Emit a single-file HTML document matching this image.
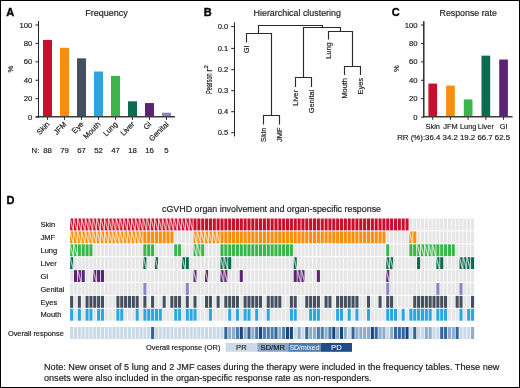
<!DOCTYPE html>
<html><head><meta charset="utf-8"><style>
html,body{margin:0;padding:0;background:#fff;}
body{width:520px;height:388px;overflow:hidden;}
svg{display:block;will-change:transform;}
text{font-family:"Liberation Sans", sans-serif;}
</style></head><body>
<svg width="520" height="388" viewBox="0 0 520 388" font-family='"Liberation Sans", sans-serif'>
<rect x="0" y="0" width="520" height="388" fill="#fff"/>
<text x="6.2" y="15.6" font-size="11" text-anchor="start" font-weight="bold" fill="#000" stroke="#000" stroke-width="0.35" >A</text>
<text x="106.5" y="15.8" font-size="9" text-anchor="middle" font-weight="normal" fill="#1a1a1a" stroke="#1a1a1a" stroke-width="0.17" >Frequency</text>
<line x1="38.5" y1="21" x2="38.5" y2="117.4" stroke="#222" stroke-width="1"/>
<line x1="35.5" y1="117.1" x2="38.5" y2="117.1" stroke="#222" stroke-width="1"/>
<text x="32.4" y="119.6" font-size="7.7" text-anchor="end" font-weight="normal" fill="#1a1a1a" stroke="#1a1a1a" stroke-width="0.17" >0</text>
<line x1="35.5" y1="98.67999999999999" x2="38.5" y2="98.67999999999999" stroke="#222" stroke-width="1"/>
<text x="32.4" y="101.17999999999999" font-size="7.7" text-anchor="end" font-weight="normal" fill="#1a1a1a" stroke="#1a1a1a" stroke-width="0.17" >20</text>
<line x1="35.5" y1="80.25999999999999" x2="38.5" y2="80.25999999999999" stroke="#222" stroke-width="1"/>
<text x="32.4" y="82.75999999999999" font-size="7.7" text-anchor="end" font-weight="normal" fill="#1a1a1a" stroke="#1a1a1a" stroke-width="0.17" >40</text>
<line x1="35.5" y1="61.83999999999999" x2="38.5" y2="61.83999999999999" stroke="#222" stroke-width="1"/>
<text x="32.4" y="64.33999999999999" font-size="7.7" text-anchor="end" font-weight="normal" fill="#1a1a1a" stroke="#1a1a1a" stroke-width="0.17" >60</text>
<line x1="35.5" y1="43.41999999999999" x2="38.5" y2="43.41999999999999" stroke="#222" stroke-width="1"/>
<text x="32.4" y="45.91999999999999" font-size="7.7" text-anchor="end" font-weight="normal" fill="#1a1a1a" stroke="#1a1a1a" stroke-width="0.17" >80</text>
<line x1="35.5" y1="24.999999999999986" x2="38.5" y2="24.999999999999986" stroke="#222" stroke-width="1"/>
<text x="32.4" y="27.499999999999986" font-size="7.7" text-anchor="end" font-weight="normal" fill="#1a1a1a" stroke="#1a1a1a" stroke-width="0.17" >100</text>
<rect x="43" y="39.91" width="9" height="76.59" fill="#c8102e"/>
<line x1="47.5" y1="117" x2="47.5" y2="119.8" stroke="#222" stroke-width="1"/>
<text x="50.1" y="124.7" font-size="7.6" text-anchor="end" font-weight="normal" fill="#1a1a1a" stroke="#1a1a1a" stroke-width="0.17" transform="rotate(-45 50.1 124.7)">Skin</text>
<text x="47.5" y="152.6" font-size="7.8" text-anchor="middle" font-weight="normal" fill="#1a1a1a" stroke="#1a1a1a" stroke-width="0.17" >88</text>
<rect x="60" y="47.81" width="9" height="68.69" fill="#f98d0e"/>
<line x1="64.5" y1="117" x2="64.5" y2="119.8" stroke="#222" stroke-width="1"/>
<text x="67.1" y="124.7" font-size="7.6" text-anchor="end" font-weight="normal" fill="#1a1a1a" stroke="#1a1a1a" stroke-width="0.17" transform="rotate(-45 67.1 124.7)">JFM</text>
<text x="64.5" y="152.6" font-size="7.8" text-anchor="middle" font-weight="normal" fill="#1a1a1a" stroke="#1a1a1a" stroke-width="0.17" >79</text>
<rect x="77" y="58.33" width="9" height="58.17" fill="#44505f"/>
<line x1="81.5" y1="117" x2="81.5" y2="119.8" stroke="#222" stroke-width="1"/>
<text x="84.1" y="124.7" font-size="7.6" text-anchor="end" font-weight="normal" fill="#1a1a1a" stroke="#1a1a1a" stroke-width="0.17" transform="rotate(-45 84.1 124.7)">Eye</text>
<text x="81.5" y="152.6" font-size="7.8" text-anchor="middle" font-weight="normal" fill="#1a1a1a" stroke="#1a1a1a" stroke-width="0.17" >67</text>
<rect x="94" y="71.49" width="9" height="45.01" fill="#2aa7e1"/>
<line x1="98.5" y1="117" x2="98.5" y2="119.8" stroke="#222" stroke-width="1"/>
<text x="101.1" y="124.7" font-size="7.6" text-anchor="end" font-weight="normal" fill="#1a1a1a" stroke="#1a1a1a" stroke-width="0.17" transform="rotate(-45 101.1 124.7)">Mouth</text>
<text x="98.5" y="152.6" font-size="7.8" text-anchor="middle" font-weight="normal" fill="#1a1a1a" stroke="#1a1a1a" stroke-width="0.17" >52</text>
<rect x="111" y="75.87" width="9" height="40.63" fill="#3bb54a"/>
<line x1="115.5" y1="117" x2="115.5" y2="119.8" stroke="#222" stroke-width="1"/>
<text x="118.1" y="124.7" font-size="7.6" text-anchor="end" font-weight="normal" fill="#1a1a1a" stroke="#1a1a1a" stroke-width="0.17" transform="rotate(-45 118.1 124.7)">Lung</text>
<text x="115.5" y="152.6" font-size="7.8" text-anchor="middle" font-weight="normal" fill="#1a1a1a" stroke="#1a1a1a" stroke-width="0.17" >47</text>
<rect x="128" y="101.31" width="9" height="15.19" fill="#0b6b4f"/>
<line x1="132.5" y1="117" x2="132.5" y2="119.8" stroke="#222" stroke-width="1"/>
<text x="135.1" y="124.7" font-size="7.6" text-anchor="end" font-weight="normal" fill="#1a1a1a" stroke="#1a1a1a" stroke-width="0.17" transform="rotate(-45 135.1 124.7)">Liver</text>
<text x="132.5" y="152.6" font-size="7.8" text-anchor="middle" font-weight="normal" fill="#1a1a1a" stroke="#1a1a1a" stroke-width="0.17" >18</text>
<rect x="145" y="103.07" width="9" height="13.43" fill="#5c2373"/>
<line x1="149.5" y1="117" x2="149.5" y2="119.8" stroke="#222" stroke-width="1"/>
<text x="152.1" y="124.7" font-size="7.6" text-anchor="end" font-weight="normal" fill="#1a1a1a" stroke="#1a1a1a" stroke-width="0.17" transform="rotate(-45 152.1 124.7)">GI</text>
<text x="149.5" y="152.6" font-size="7.8" text-anchor="middle" font-weight="normal" fill="#1a1a1a" stroke="#1a1a1a" stroke-width="0.17" >16</text>
<rect x="162" y="112.71" width="9" height="3.79" fill="#8a82ca"/>
<line x1="166.5" y1="117" x2="166.5" y2="119.8" stroke="#222" stroke-width="1"/>
<text x="169.1" y="124.7" font-size="7.6" text-anchor="end" font-weight="normal" fill="#1a1a1a" stroke="#1a1a1a" stroke-width="0.17" transform="rotate(-45 169.1 124.7)">Genital</text>
<text x="166.5" y="152.6" font-size="7.8" text-anchor="middle" font-weight="normal" fill="#1a1a1a" stroke="#1a1a1a" stroke-width="0.17" >5</text>
<text x="31.6" y="152.6" font-size="7.8" text-anchor="start" font-weight="normal" fill="#1a1a1a" stroke="#1a1a1a" stroke-width="0.17" >N:</text>
<line x1="35.8" y1="116.8" x2="175" y2="116.8" stroke="#3c3c3c" stroke-width="1.4"/>
<line x1="38.5" y1="21" x2="38.5" y2="117.4" stroke="#222" stroke-width="1"/>
<text x="13.3" y="69" font-size="7.6" text-anchor="middle" font-weight="normal" fill="#1a1a1a" stroke="#1a1a1a" stroke-width="0.17" transform="rotate(-90 13.3 69)">%</text>
<text x="203.8" y="15.9" font-size="11" text-anchor="start" font-weight="bold" fill="#000" stroke="#000" stroke-width="0.35" >B</text>
<text x="253.6" y="16.3" font-size="8.9" text-anchor="start" font-weight="normal" fill="#1a1a1a" stroke="#1a1a1a" stroke-width="0.17" >Hierarchical clustering</text>
<line x1="234.5" y1="22.3" x2="234.5" y2="136.4" stroke="#222" stroke-width="1"/>
<line x1="231.2" y1="26.6" x2="234.3" y2="26.6" stroke="#222" stroke-width="1"/>
<text x="228.2" y="28.900000000000002" font-size="7.6" text-anchor="end" font-weight="normal" fill="#1a1a1a" stroke="#1a1a1a" stroke-width="0.17" >0.0</text>
<line x1="231.2" y1="48.4" x2="234.3" y2="48.4" stroke="#222" stroke-width="1"/>
<text x="228.2" y="50.699999999999996" font-size="7.6" text-anchor="end" font-weight="normal" fill="#1a1a1a" stroke="#1a1a1a" stroke-width="0.17" >0.1</text>
<line x1="231.2" y1="69.7" x2="234.3" y2="69.7" stroke="#222" stroke-width="1"/>
<text x="228.2" y="72.0" font-size="7.6" text-anchor="end" font-weight="normal" fill="#1a1a1a" stroke="#1a1a1a" stroke-width="0.17" >0.2</text>
<line x1="231.2" y1="90.7" x2="234.3" y2="90.7" stroke="#222" stroke-width="1"/>
<text x="228.2" y="93.0" font-size="7.6" text-anchor="end" font-weight="normal" fill="#1a1a1a" stroke="#1a1a1a" stroke-width="0.17" >0.3</text>
<line x1="231.2" y1="111.7" x2="234.3" y2="111.7" stroke="#222" stroke-width="1"/>
<text x="228.2" y="114.0" font-size="7.6" text-anchor="end" font-weight="normal" fill="#1a1a1a" stroke="#1a1a1a" stroke-width="0.17" >0.4</text>
<line x1="231.2" y1="132.7" x2="234.3" y2="132.7" stroke="#222" stroke-width="1"/>
<text x="228.2" y="135.0" font-size="7.6" text-anchor="end" font-weight="normal" fill="#1a1a1a" stroke="#1a1a1a" stroke-width="0.17" >0.5</text>
<text x="0" y="0" font-size="8.8" fill="#1a1a1a" stroke="#1a1a1a" stroke-width="0.2" transform="translate(211.8 94) rotate(-90)"><tspan textLength="20.6" lengthAdjust="spacingAndGlyphs">Pearson</tspan><tspan dx="1.6" textLength="3.2" lengthAdjust="spacingAndGlyphs">r</tspan><tspan font-size="5.4" dx="0.4" dy="-3.6">2</tspan></text>
<path d="M263.5,124 L263.5,115.5 L279.5,115.5 L279.5,124" fill="none" stroke="#2b2b2b" stroke-width="1.15" stroke-linecap="square"/>
<path d="M246.5,42 L246.5,33.5 L271.5,33.5 L271.5,115.5" fill="none" stroke="#2b2b2b" stroke-width="1.15" stroke-linecap="square"/>
<path d="M295.5,86.3 L295.5,77.5 L311.5,77.5 L311.5,86.3" fill="none" stroke="#2b2b2b" stroke-width="1.15" stroke-linecap="square"/>
<path d="M344.5,74.5 L344.5,66.5 L360.5,66.5 L360.5,74.5" fill="none" stroke="#2b2b2b" stroke-width="1.15" stroke-linecap="square"/>
<path d="M328.5,38.8 L328.5,31.5 L352.5,31.5 L352.5,66.5" fill="none" stroke="#2b2b2b" stroke-width="1.15" stroke-linecap="square"/>
<path d="M303.5,77.5 L303.5,27.5 L340.5,27.5 L340.5,31.5" fill="none" stroke="#2b2b2b" stroke-width="1.15" stroke-linecap="square"/>
<path d="M258.5,33.5 L258.5,25.5 L322.5,25.5 L322.5,27.5" fill="none" stroke="#2b2b2b" stroke-width="1.15" stroke-linecap="square"/>
<text x="249.2" y="45.5" font-size="7.4" text-anchor="end" font-weight="normal" fill="#1a1a1a" stroke="#1a1a1a" stroke-width="0.17" transform="rotate(-90 249.2 45.5)">GI</text>
<text x="266.2" y="127.5" font-size="7.4" text-anchor="end" font-weight="normal" fill="#1a1a1a" stroke="#1a1a1a" stroke-width="0.17" transform="rotate(-90 266.2 127.5)">Skin</text>
<text x="282.2" y="127.5" font-size="7.4" text-anchor="end" font-weight="normal" fill="#1a1a1a" stroke="#1a1a1a" stroke-width="0.17" transform="rotate(-90 282.2 127.5)">JMF</text>
<text x="298.2" y="89.8" font-size="7.4" text-anchor="end" font-weight="normal" fill="#1a1a1a" stroke="#1a1a1a" stroke-width="0.17" transform="rotate(-90 298.2 89.8)">Liver</text>
<text x="314.2" y="89.8" font-size="7.4" text-anchor="end" font-weight="normal" fill="#1a1a1a" stroke="#1a1a1a" stroke-width="0.17" transform="rotate(-90 314.2 89.8)">Genital</text>
<text x="331.2" y="42.3" font-size="7.4" text-anchor="end" font-weight="normal" fill="#1a1a1a" stroke="#1a1a1a" stroke-width="0.17" transform="rotate(-90 331.2 42.3)">Lung</text>
<text x="347.2" y="78.0" font-size="7.4" text-anchor="end" font-weight="normal" fill="#1a1a1a" stroke="#1a1a1a" stroke-width="0.17" transform="rotate(-90 347.2 78.0)">Mouth</text>
<text x="363.2" y="78.0" font-size="7.4" text-anchor="end" font-weight="normal" fill="#1a1a1a" stroke="#1a1a1a" stroke-width="0.17" transform="rotate(-90 363.2 78.0)">Eyes</text>
<text x="391.8" y="15.9" font-size="11" text-anchor="start" font-weight="bold" fill="#000" stroke="#000" stroke-width="0.35" >C</text>
<text x="468.2" y="15.8" font-size="8.8" text-anchor="middle" font-weight="normal" fill="#1a1a1a" stroke="#1a1a1a" stroke-width="0.17" >Response rate</text>
<line x1="423.8" y1="21.3" x2="423.8" y2="117.4" stroke="#222" stroke-width="1"/>
<line x1="421" y1="117.1" x2="423.8" y2="117.1" stroke="#222" stroke-width="1"/>
<text x="417.6" y="119.6" font-size="7.7" text-anchor="end" font-weight="normal" fill="#1a1a1a" stroke="#1a1a1a" stroke-width="0.17" >0</text>
<line x1="421" y1="98.67999999999999" x2="423.8" y2="98.67999999999999" stroke="#222" stroke-width="1"/>
<text x="417.6" y="101.17999999999999" font-size="7.7" text-anchor="end" font-weight="normal" fill="#1a1a1a" stroke="#1a1a1a" stroke-width="0.17" >20</text>
<line x1="421" y1="80.25999999999999" x2="423.8" y2="80.25999999999999" stroke="#222" stroke-width="1"/>
<text x="417.6" y="82.75999999999999" font-size="7.7" text-anchor="end" font-weight="normal" fill="#1a1a1a" stroke="#1a1a1a" stroke-width="0.17" >40</text>
<line x1="421" y1="61.83999999999999" x2="423.8" y2="61.83999999999999" stroke="#222" stroke-width="1"/>
<text x="417.6" y="64.33999999999999" font-size="7.7" text-anchor="end" font-weight="normal" fill="#1a1a1a" stroke="#1a1a1a" stroke-width="0.17" >60</text>
<line x1="421" y1="43.41999999999999" x2="423.8" y2="43.41999999999999" stroke="#222" stroke-width="1"/>
<text x="417.6" y="45.91999999999999" font-size="7.7" text-anchor="end" font-weight="normal" fill="#1a1a1a" stroke="#1a1a1a" stroke-width="0.17" >80</text>
<line x1="421" y1="24.999999999999986" x2="423.8" y2="24.999999999999986" stroke="#222" stroke-width="1"/>
<text x="417.6" y="27.499999999999986" font-size="7.7" text-anchor="end" font-weight="normal" fill="#1a1a1a" stroke="#1a1a1a" stroke-width="0.17" >100</text>
<rect x="428.40" y="83.58" width="8.7" height="32.92" fill="#c8102e"/>
<line x1="432.75" y1="117" x2="432.75" y2="119.8" stroke="#222" stroke-width="1"/>
<text x="432.75" y="128.6" font-size="7.4" text-anchor="middle" font-weight="normal" fill="#1a1a1a" stroke="#1a1a1a" stroke-width="0.17" >Skin</text>
<rect x="446.10" y="85.60" width="8.7" height="30.90" fill="#f98d0e"/>
<line x1="450.45" y1="117" x2="450.45" y2="119.8" stroke="#222" stroke-width="1"/>
<text x="450.45" y="128.6" font-size="7.4" text-anchor="middle" font-weight="normal" fill="#1a1a1a" stroke="#1a1a1a" stroke-width="0.17" >JFM</text>
<rect x="463.80" y="99.42" width="8.7" height="17.08" fill="#3bb54a"/>
<line x1="468.15" y1="117" x2="468.15" y2="119.8" stroke="#222" stroke-width="1"/>
<text x="468.15" y="128.6" font-size="7.4" text-anchor="middle" font-weight="normal" fill="#1a1a1a" stroke="#1a1a1a" stroke-width="0.17" >Lung</text>
<rect x="481.50" y="55.67" width="8.7" height="60.83" fill="#0b6b4f"/>
<line x1="485.85" y1="117" x2="485.85" y2="119.8" stroke="#222" stroke-width="1"/>
<text x="485.85" y="128.6" font-size="7.4" text-anchor="middle" font-weight="normal" fill="#1a1a1a" stroke="#1a1a1a" stroke-width="0.17" >Liver</text>
<rect x="499.20" y="59.54" width="8.7" height="56.96" fill="#5c2373"/>
<line x1="503.55" y1="117" x2="503.55" y2="119.8" stroke="#222" stroke-width="1"/>
<text x="503.55" y="128.6" font-size="7.4" text-anchor="middle" font-weight="normal" fill="#1a1a1a" stroke="#1a1a1a" stroke-width="0.17" >GI</text>
<text x="397.2" y="139.6" font-size="7.85" text-anchor="start" font-weight="normal" fill="#1a1a1a" stroke="#1a1a1a" stroke-width="0.17" >RR (%):36.4 34.2 19.2 66.7 62.5</text>
<line x1="423.3" y1="116.8" x2="512.6" y2="116.8" stroke="#3c3c3c" stroke-width="1.4"/>
<line x1="423.8" y1="21.3" x2="423.8" y2="117.4" stroke="#222" stroke-width="1"/>
<text x="398.8" y="68.7" font-size="7.6" text-anchor="middle" font-weight="normal" fill="#1a1a1a" stroke="#1a1a1a" stroke-width="0.17" transform="rotate(-90 398.8 68.7)">%</text>
<text x="6.4" y="204.2" font-size="11" text-anchor="start" font-weight="bold" fill="#000" stroke="#000" stroke-width="0.35" >D</text>
<text x="162" y="212.2" font-size="8.9" text-anchor="start" font-weight="normal" fill="#1a1a1a" stroke="#1a1a1a" stroke-width="0.17" >cGVHD organ involvement and organ-specific response</text>
<text x="40.5" y="227.1" font-size="7.5" text-anchor="start" font-weight="normal" fill="#1a1a1a" stroke="#1a1a1a" stroke-width="0.17" >Skin</text>
<rect x="70.10" y="218.50" width="3.1" height="11.9" fill="#c8102e"/>
<line x1="70.10" y1="218.50" x2="73.20" y2="230.40" stroke="#fff" stroke-width="1.3" opacity="0.62"/>
<rect x="73.95" y="218.50" width="3.1" height="11.9" fill="#c8102e"/>
<line x1="73.95" y1="218.50" x2="77.05" y2="230.40" stroke="#fff" stroke-width="1.3" opacity="0.62"/>
<rect x="77.81" y="218.50" width="3.1" height="11.9" fill="#c8102e"/>
<line x1="77.81" y1="218.50" x2="80.91" y2="230.40" stroke="#fff" stroke-width="1.3" opacity="0.62"/>
<rect x="81.66" y="218.50" width="3.1" height="11.9" fill="#c8102e"/>
<line x1="81.66" y1="218.50" x2="84.76" y2="230.40" stroke="#fff" stroke-width="1.3" opacity="0.62"/>
<rect x="85.52" y="218.50" width="3.1" height="11.9" fill="#c8102e"/>
<line x1="85.52" y1="218.50" x2="88.62" y2="230.40" stroke="#fff" stroke-width="1.3" opacity="0.62"/>
<rect x="89.38" y="218.50" width="3.1" height="11.9" fill="#c8102e"/>
<line x1="89.38" y1="218.50" x2="92.47" y2="230.40" stroke="#fff" stroke-width="1.3" opacity="0.62"/>
<rect x="93.23" y="218.50" width="3.1" height="11.9" fill="#c8102e"/>
<line x1="93.23" y1="218.50" x2="96.33" y2="230.40" stroke="#fff" stroke-width="1.3" opacity="0.62"/>
<rect x="97.08" y="218.50" width="3.1" height="11.9" fill="#c8102e"/>
<line x1="97.08" y1="218.50" x2="100.18" y2="230.40" stroke="#fff" stroke-width="1.3" opacity="0.62"/>
<rect x="100.94" y="218.50" width="3.1" height="11.9" fill="#c8102e"/>
<line x1="100.94" y1="218.50" x2="104.04" y2="230.40" stroke="#fff" stroke-width="1.3" opacity="0.62"/>
<rect x="104.79" y="218.50" width="3.1" height="11.9" fill="#c8102e"/>
<line x1="104.79" y1="218.50" x2="107.89" y2="230.40" stroke="#fff" stroke-width="1.3" opacity="0.62"/>
<rect x="108.65" y="218.50" width="3.1" height="11.9" fill="#c8102e"/>
<line x1="108.65" y1="218.50" x2="111.75" y2="230.40" stroke="#fff" stroke-width="1.3" opacity="0.62"/>
<rect x="112.50" y="218.50" width="3.1" height="11.9" fill="#c8102e"/>
<line x1="112.50" y1="218.50" x2="115.60" y2="230.40" stroke="#fff" stroke-width="1.3" opacity="0.62"/>
<rect x="116.36" y="218.50" width="3.1" height="11.9" fill="#c8102e"/>
<line x1="116.36" y1="218.50" x2="119.46" y2="230.40" stroke="#fff" stroke-width="1.3" opacity="0.62"/>
<rect x="120.22" y="218.50" width="3.1" height="11.9" fill="#c8102e"/>
<line x1="120.22" y1="218.50" x2="123.31" y2="230.40" stroke="#fff" stroke-width="1.3" opacity="0.62"/>
<rect x="124.07" y="218.50" width="3.1" height="11.9" fill="#c8102e"/>
<line x1="124.07" y1="218.50" x2="127.17" y2="230.40" stroke="#fff" stroke-width="1.3" opacity="0.62"/>
<rect x="127.92" y="218.50" width="3.1" height="11.9" fill="#c8102e"/>
<line x1="127.92" y1="218.50" x2="131.03" y2="230.40" stroke="#fff" stroke-width="1.3" opacity="0.62"/>
<rect x="131.78" y="218.50" width="3.1" height="11.9" fill="#c8102e"/>
<line x1="131.78" y1="218.50" x2="134.88" y2="230.40" stroke="#fff" stroke-width="1.3" opacity="0.62"/>
<rect x="135.63" y="218.50" width="3.1" height="11.9" fill="#c8102e"/>
<line x1="135.63" y1="218.50" x2="138.73" y2="230.40" stroke="#fff" stroke-width="1.3" opacity="0.62"/>
<rect x="139.49" y="218.50" width="3.1" height="11.9" fill="#c8102e"/>
<line x1="139.49" y1="218.50" x2="142.59" y2="230.40" stroke="#fff" stroke-width="1.3" opacity="0.62"/>
<rect x="143.34" y="218.50" width="3.1" height="11.9" fill="#c8102e"/>
<line x1="143.34" y1="218.50" x2="146.44" y2="230.40" stroke="#fff" stroke-width="1.3" opacity="0.62"/>
<rect x="147.20" y="218.50" width="3.1" height="11.9" fill="#c8102e"/>
<line x1="147.20" y1="218.50" x2="150.30" y2="230.40" stroke="#fff" stroke-width="1.3" opacity="0.62"/>
<rect x="151.06" y="218.50" width="3.1" height="11.9" fill="#c8102e"/>
<line x1="151.06" y1="218.50" x2="154.16" y2="230.40" stroke="#fff" stroke-width="1.3" opacity="0.62"/>
<rect x="154.91" y="218.50" width="3.1" height="11.9" fill="#c8102e"/>
<line x1="154.91" y1="218.50" x2="158.01" y2="230.40" stroke="#fff" stroke-width="1.3" opacity="0.62"/>
<rect x="158.76" y="218.50" width="3.1" height="11.9" fill="#c8102e"/>
<line x1="158.76" y1="218.50" x2="161.86" y2="230.40" stroke="#fff" stroke-width="1.3" opacity="0.62"/>
<rect x="162.62" y="218.50" width="3.1" height="11.9" fill="#c8102e"/>
<line x1="162.62" y1="218.50" x2="165.72" y2="230.40" stroke="#fff" stroke-width="1.3" opacity="0.62"/>
<rect x="166.47" y="218.50" width="3.1" height="11.9" fill="#c8102e"/>
<line x1="166.47" y1="218.50" x2="169.57" y2="230.40" stroke="#fff" stroke-width="1.3" opacity="0.62"/>
<rect x="170.33" y="218.50" width="3.1" height="11.9" fill="#c8102e"/>
<line x1="170.33" y1="218.50" x2="173.43" y2="230.40" stroke="#fff" stroke-width="1.3" opacity="0.62"/>
<rect x="174.19" y="218.50" width="3.1" height="11.9" fill="#c8102e"/>
<line x1="174.19" y1="218.50" x2="177.28" y2="230.40" stroke="#fff" stroke-width="1.3" opacity="0.62"/>
<rect x="178.04" y="218.50" width="3.1" height="11.9" fill="#c8102e"/>
<line x1="178.04" y1="218.50" x2="181.14" y2="230.40" stroke="#fff" stroke-width="1.3" opacity="0.62"/>
<rect x="181.89" y="218.50" width="3.1" height="11.9" fill="#c8102e"/>
<line x1="181.89" y1="218.50" x2="184.99" y2="230.40" stroke="#fff" stroke-width="1.3" opacity="0.62"/>
<rect x="185.75" y="218.50" width="3.1" height="11.9" fill="#c8102e"/>
<line x1="185.75" y1="218.50" x2="188.85" y2="230.40" stroke="#fff" stroke-width="1.3" opacity="0.62"/>
<rect x="189.60" y="218.50" width="3.1" height="11.9" fill="#c8102e"/>
<line x1="189.60" y1="218.50" x2="192.70" y2="230.40" stroke="#fff" stroke-width="1.3" opacity="0.62"/>
<rect x="193.46" y="218.50" width="3.1" height="11.9" fill="#c8102e"/>
<rect x="197.31" y="218.50" width="3.1" height="11.9" fill="#c8102e"/>
<rect x="201.17" y="218.50" width="3.1" height="11.9" fill="#c8102e"/>
<rect x="205.03" y="218.50" width="3.1" height="11.9" fill="#c8102e"/>
<rect x="208.88" y="218.50" width="3.1" height="11.9" fill="#c8102e"/>
<rect x="212.73" y="218.50" width="3.1" height="11.9" fill="#c8102e"/>
<rect x="216.59" y="218.50" width="3.1" height="11.9" fill="#c8102e"/>
<rect x="220.44" y="218.50" width="3.1" height="11.9" fill="#c8102e"/>
<rect x="224.30" y="218.50" width="3.1" height="11.9" fill="#c8102e"/>
<rect x="228.16" y="218.50" width="3.1" height="11.9" fill="#c8102e"/>
<rect x="232.01" y="218.50" width="3.1" height="11.9" fill="#c8102e"/>
<rect x="235.86" y="218.50" width="3.1" height="11.9" fill="#c8102e"/>
<rect x="239.72" y="218.50" width="3.1" height="11.9" fill="#c8102e"/>
<rect x="243.57" y="218.50" width="3.1" height="11.9" fill="#c8102e"/>
<rect x="247.43" y="218.50" width="3.1" height="11.9" fill="#c8102e"/>
<rect x="251.28" y="218.50" width="3.1" height="11.9" fill="#c8102e"/>
<rect x="255.14" y="218.50" width="3.1" height="11.9" fill="#c8102e"/>
<rect x="259.00" y="218.50" width="3.1" height="11.9" fill="#c8102e"/>
<rect x="262.85" y="218.50" width="3.1" height="11.9" fill="#c8102e"/>
<rect x="266.70" y="218.50" width="3.1" height="11.9" fill="#c8102e"/>
<rect x="270.56" y="218.50" width="3.1" height="11.9" fill="#c8102e"/>
<rect x="274.41" y="218.50" width="3.1" height="11.9" fill="#c8102e"/>
<rect x="278.27" y="218.50" width="3.1" height="11.9" fill="#c8102e"/>
<rect x="282.12" y="218.50" width="3.1" height="11.9" fill="#c8102e"/>
<rect x="285.98" y="218.50" width="3.1" height="11.9" fill="#c8102e"/>
<rect x="289.83" y="218.50" width="3.1" height="11.9" fill="#c8102e"/>
<rect x="293.69" y="218.50" width="3.1" height="11.9" fill="#c8102e"/>
<rect x="297.54" y="218.50" width="3.1" height="11.9" fill="#c8102e"/>
<rect x="301.40" y="218.50" width="3.1" height="11.9" fill="#c8102e"/>
<rect x="305.25" y="218.50" width="3.1" height="11.9" fill="#c8102e"/>
<rect x="309.11" y="218.50" width="3.1" height="11.9" fill="#c8102e"/>
<rect x="312.97" y="218.50" width="3.1" height="11.9" fill="#c8102e"/>
<rect x="316.82" y="218.50" width="3.1" height="11.9" fill="#c8102e"/>
<rect x="320.67" y="218.50" width="3.1" height="11.9" fill="#c8102e"/>
<rect x="324.53" y="218.50" width="3.1" height="11.9" fill="#c8102e"/>
<rect x="328.38" y="218.50" width="3.1" height="11.9" fill="#c8102e"/>
<rect x="332.24" y="218.50" width="3.1" height="11.9" fill="#c8102e"/>
<rect x="336.10" y="218.50" width="3.1" height="11.9" fill="#c8102e"/>
<rect x="339.95" y="218.50" width="3.1" height="11.9" fill="#c8102e"/>
<rect x="343.80" y="218.50" width="3.1" height="11.9" fill="#c8102e"/>
<rect x="347.66" y="218.50" width="3.1" height="11.9" fill="#c8102e"/>
<rect x="351.51" y="218.50" width="3.1" height="11.9" fill="#c8102e"/>
<rect x="355.37" y="218.50" width="3.1" height="11.9" fill="#c8102e"/>
<rect x="359.23" y="218.50" width="3.1" height="11.9" fill="#c8102e"/>
<rect x="363.08" y="218.50" width="3.1" height="11.9" fill="#c8102e"/>
<rect x="366.93" y="218.50" width="3.1" height="11.9" fill="#c8102e"/>
<rect x="370.79" y="218.50" width="3.1" height="11.9" fill="#c8102e"/>
<rect x="374.64" y="218.50" width="3.1" height="11.9" fill="#c8102e"/>
<rect x="378.50" y="218.50" width="3.1" height="11.9" fill="#c8102e"/>
<rect x="382.36" y="218.50" width="3.1" height="11.9" fill="#c8102e"/>
<rect x="386.21" y="218.50" width="3.1" height="11.9" fill="#c8102e"/>
<rect x="390.06" y="218.50" width="3.1" height="11.9" fill="#c8102e"/>
<rect x="393.92" y="218.50" width="3.1" height="11.9" fill="#c8102e"/>
<rect x="397.77" y="218.50" width="3.1" height="11.9" fill="#c8102e"/>
<rect x="401.63" y="218.50" width="3.1" height="11.9" fill="#c8102e"/>
<rect x="405.49" y="218.50" width="3.1" height="11.9" fill="#c8102e"/>
<rect x="409.34" y="218.50" width="3.1" height="11.9" fill="#e6e6e6"/>
<rect x="413.19" y="218.50" width="3.1" height="11.9" fill="#e6e6e6"/>
<rect x="417.05" y="218.50" width="3.1" height="11.9" fill="#e6e6e6"/>
<rect x="420.90" y="218.50" width="3.1" height="11.9" fill="#e6e6e6"/>
<rect x="424.76" y="218.50" width="3.1" height="11.9" fill="#e6e6e6"/>
<rect x="428.62" y="218.50" width="3.1" height="11.9" fill="#e6e6e6"/>
<rect x="432.47" y="218.50" width="3.1" height="11.9" fill="#e6e6e6"/>
<rect x="436.33" y="218.50" width="3.1" height="11.9" fill="#e6e6e6"/>
<rect x="440.18" y="218.50" width="3.1" height="11.9" fill="#e6e6e6"/>
<rect x="444.03" y="218.50" width="3.1" height="11.9" fill="#e6e6e6"/>
<rect x="447.89" y="218.50" width="3.1" height="11.9" fill="#e6e6e6"/>
<rect x="451.75" y="218.50" width="3.1" height="11.9" fill="#e6e6e6"/>
<rect x="455.60" y="218.50" width="3.1" height="11.9" fill="#e6e6e6"/>
<rect x="459.46" y="218.50" width="3.1" height="11.9" fill="#e6e6e6"/>
<rect x="463.31" y="218.50" width="3.1" height="11.9" fill="#e6e6e6"/>
<rect x="467.16" y="218.50" width="3.1" height="11.9" fill="#e6e6e6"/>
<rect x="471.02" y="218.50" width="3.1" height="11.9" fill="#e6e6e6"/>
<text x="40.5" y="240.0" font-size="7.5" text-anchor="start" font-weight="normal" fill="#1a1a1a" stroke="#1a1a1a" stroke-width="0.17" >JMF</text>
<rect x="70.10" y="231.40" width="3.1" height="11.9" fill="#f98d0e"/>
<line x1="70.10" y1="231.40" x2="73.20" y2="243.30" stroke="#fff" stroke-width="1.3" opacity="0.62"/>
<rect x="73.95" y="231.40" width="3.1" height="11.9" fill="#f98d0e"/>
<line x1="73.95" y1="231.40" x2="77.05" y2="243.30" stroke="#fff" stroke-width="1.3" opacity="0.62"/>
<rect x="77.81" y="231.40" width="3.1" height="11.9" fill="#f98d0e"/>
<line x1="77.81" y1="231.40" x2="80.91" y2="243.30" stroke="#fff" stroke-width="1.3" opacity="0.62"/>
<rect x="81.66" y="231.40" width="3.1" height="11.9" fill="#f98d0e"/>
<line x1="81.66" y1="231.40" x2="84.76" y2="243.30" stroke="#fff" stroke-width="1.3" opacity="0.62"/>
<rect x="85.52" y="231.40" width="3.1" height="11.9" fill="#f98d0e"/>
<line x1="85.52" y1="231.40" x2="88.62" y2="243.30" stroke="#fff" stroke-width="1.3" opacity="0.62"/>
<rect x="89.38" y="231.40" width="3.1" height="11.9" fill="#f98d0e"/>
<line x1="89.38" y1="231.40" x2="92.47" y2="243.30" stroke="#fff" stroke-width="1.3" opacity="0.62"/>
<rect x="93.23" y="231.40" width="3.1" height="11.9" fill="#f98d0e"/>
<line x1="93.23" y1="231.40" x2="96.33" y2="243.30" stroke="#fff" stroke-width="1.3" opacity="0.62"/>
<rect x="97.08" y="231.40" width="3.1" height="11.9" fill="#f98d0e"/>
<line x1="97.08" y1="231.40" x2="100.18" y2="243.30" stroke="#fff" stroke-width="1.3" opacity="0.62"/>
<rect x="100.94" y="231.40" width="3.1" height="11.9" fill="#f98d0e"/>
<line x1="100.94" y1="231.40" x2="104.04" y2="243.30" stroke="#fff" stroke-width="1.3" opacity="0.62"/>
<rect x="104.79" y="231.40" width="3.1" height="11.9" fill="#f98d0e"/>
<line x1="104.79" y1="231.40" x2="107.89" y2="243.30" stroke="#fff" stroke-width="1.3" opacity="0.62"/>
<rect x="108.65" y="231.40" width="3.1" height="11.9" fill="#f98d0e"/>
<line x1="108.65" y1="231.40" x2="111.75" y2="243.30" stroke="#fff" stroke-width="1.3" opacity="0.62"/>
<rect x="112.50" y="231.40" width="3.1" height="11.9" fill="#f98d0e"/>
<line x1="112.50" y1="231.40" x2="115.60" y2="243.30" stroke="#fff" stroke-width="1.3" opacity="0.62"/>
<rect x="116.36" y="231.40" width="3.1" height="11.9" fill="#f98d0e"/>
<line x1="116.36" y1="231.40" x2="119.46" y2="243.30" stroke="#fff" stroke-width="1.3" opacity="0.62"/>
<rect x="120.22" y="231.40" width="3.1" height="11.9" fill="#f98d0e"/>
<line x1="120.22" y1="231.40" x2="123.31" y2="243.30" stroke="#fff" stroke-width="1.3" opacity="0.62"/>
<rect x="124.07" y="231.40" width="3.1" height="11.9" fill="#f98d0e"/>
<line x1="124.07" y1="231.40" x2="127.17" y2="243.30" stroke="#fff" stroke-width="1.3" opacity="0.62"/>
<rect x="127.92" y="231.40" width="3.1" height="11.9" fill="#f98d0e"/>
<line x1="127.92" y1="231.40" x2="131.03" y2="243.30" stroke="#fff" stroke-width="1.3" opacity="0.62"/>
<rect x="131.78" y="231.40" width="3.1" height="11.9" fill="#f98d0e"/>
<line x1="131.78" y1="231.40" x2="134.88" y2="243.30" stroke="#fff" stroke-width="1.3" opacity="0.62"/>
<rect x="135.63" y="231.40" width="3.1" height="11.9" fill="#f98d0e"/>
<line x1="135.63" y1="231.40" x2="138.73" y2="243.30" stroke="#fff" stroke-width="1.3" opacity="0.62"/>
<rect x="139.49" y="231.40" width="3.1" height="11.9" fill="#f98d0e"/>
<line x1="139.49" y1="231.40" x2="142.59" y2="243.30" stroke="#fff" stroke-width="1.3" opacity="0.62"/>
<rect x="143.34" y="231.40" width="3.1" height="11.9" fill="#f98d0e"/>
<rect x="147.20" y="231.40" width="3.1" height="11.9" fill="#f98d0e"/>
<rect x="151.06" y="231.40" width="3.1" height="11.9" fill="#f98d0e"/>
<rect x="154.91" y="231.40" width="3.1" height="11.9" fill="#f98d0e"/>
<rect x="158.76" y="231.40" width="3.1" height="11.9" fill="#f98d0e"/>
<rect x="162.62" y="231.40" width="3.1" height="11.9" fill="#f98d0e"/>
<rect x="166.47" y="231.40" width="3.1" height="11.9" fill="#f98d0e"/>
<rect x="170.33" y="231.40" width="3.1" height="11.9" fill="#f98d0e"/>
<rect x="174.19" y="231.40" width="3.1" height="11.9" fill="#e6e6e6"/>
<rect x="178.04" y="231.40" width="3.1" height="11.9" fill="#e6e6e6"/>
<rect x="181.89" y="231.40" width="3.1" height="11.9" fill="#e6e6e6"/>
<rect x="185.75" y="231.40" width="3.1" height="11.9" fill="#e6e6e6"/>
<rect x="189.60" y="231.40" width="3.1" height="11.9" fill="#e6e6e6"/>
<rect x="193.46" y="231.40" width="3.1" height="11.9" fill="#f98d0e"/>
<line x1="193.46" y1="231.40" x2="196.56" y2="243.30" stroke="#fff" stroke-width="1.3" opacity="0.62"/>
<rect x="197.31" y="231.40" width="3.1" height="11.9" fill="#f98d0e"/>
<line x1="197.31" y1="231.40" x2="200.41" y2="243.30" stroke="#fff" stroke-width="1.3" opacity="0.62"/>
<rect x="201.17" y="231.40" width="3.1" height="11.9" fill="#f98d0e"/>
<line x1="201.17" y1="231.40" x2="204.27" y2="243.30" stroke="#fff" stroke-width="1.3" opacity="0.62"/>
<rect x="205.03" y="231.40" width="3.1" height="11.9" fill="#f98d0e"/>
<line x1="205.03" y1="231.40" x2="208.12" y2="243.30" stroke="#fff" stroke-width="1.3" opacity="0.62"/>
<rect x="208.88" y="231.40" width="3.1" height="11.9" fill="#f98d0e"/>
<line x1="208.88" y1="231.40" x2="211.98" y2="243.30" stroke="#fff" stroke-width="1.3" opacity="0.62"/>
<rect x="212.73" y="231.40" width="3.1" height="11.9" fill="#f98d0e"/>
<line x1="212.73" y1="231.40" x2="215.83" y2="243.30" stroke="#fff" stroke-width="1.3" opacity="0.62"/>
<rect x="216.59" y="231.40" width="3.1" height="11.9" fill="#f98d0e"/>
<line x1="216.59" y1="231.40" x2="219.69" y2="243.30" stroke="#fff" stroke-width="1.3" opacity="0.62"/>
<rect x="220.44" y="231.40" width="3.1" height="11.9" fill="#f98d0e"/>
<rect x="224.30" y="231.40" width="3.1" height="11.9" fill="#f98d0e"/>
<rect x="228.16" y="231.40" width="3.1" height="11.9" fill="#f98d0e"/>
<rect x="232.01" y="231.40" width="3.1" height="11.9" fill="#f98d0e"/>
<rect x="235.86" y="231.40" width="3.1" height="11.9" fill="#f98d0e"/>
<rect x="239.72" y="231.40" width="3.1" height="11.9" fill="#f98d0e"/>
<rect x="243.57" y="231.40" width="3.1" height="11.9" fill="#f98d0e"/>
<rect x="247.43" y="231.40" width="3.1" height="11.9" fill="#f98d0e"/>
<rect x="251.28" y="231.40" width="3.1" height="11.9" fill="#f98d0e"/>
<rect x="255.14" y="231.40" width="3.1" height="11.9" fill="#f98d0e"/>
<rect x="259.00" y="231.40" width="3.1" height="11.9" fill="#f98d0e"/>
<rect x="262.85" y="231.40" width="3.1" height="11.9" fill="#f98d0e"/>
<rect x="266.70" y="231.40" width="3.1" height="11.9" fill="#f98d0e"/>
<rect x="270.56" y="231.40" width="3.1" height="11.9" fill="#f98d0e"/>
<rect x="274.41" y="231.40" width="3.1" height="11.9" fill="#f98d0e"/>
<rect x="278.27" y="231.40" width="3.1" height="11.9" fill="#f98d0e"/>
<rect x="282.12" y="231.40" width="3.1" height="11.9" fill="#f98d0e"/>
<rect x="285.98" y="231.40" width="3.1" height="11.9" fill="#f98d0e"/>
<rect x="289.83" y="231.40" width="3.1" height="11.9" fill="#f98d0e"/>
<rect x="293.69" y="231.40" width="3.1" height="11.9" fill="#f98d0e"/>
<rect x="297.54" y="231.40" width="3.1" height="11.9" fill="#f98d0e"/>
<rect x="301.40" y="231.40" width="3.1" height="11.9" fill="#f98d0e"/>
<rect x="305.25" y="231.40" width="3.1" height="11.9" fill="#f98d0e"/>
<rect x="309.11" y="231.40" width="3.1" height="11.9" fill="#f98d0e"/>
<rect x="312.97" y="231.40" width="3.1" height="11.9" fill="#f98d0e"/>
<rect x="316.82" y="231.40" width="3.1" height="11.9" fill="#f98d0e"/>
<rect x="320.67" y="231.40" width="3.1" height="11.9" fill="#f98d0e"/>
<rect x="324.53" y="231.40" width="3.1" height="11.9" fill="#f98d0e"/>
<rect x="328.38" y="231.40" width="3.1" height="11.9" fill="#f98d0e"/>
<rect x="332.24" y="231.40" width="3.1" height="11.9" fill="#f98d0e"/>
<rect x="336.10" y="231.40" width="3.1" height="11.9" fill="#f98d0e"/>
<rect x="339.95" y="231.40" width="3.1" height="11.9" fill="#f98d0e"/>
<rect x="343.80" y="231.40" width="3.1" height="11.9" fill="#f98d0e"/>
<rect x="347.66" y="231.40" width="3.1" height="11.9" fill="#f98d0e"/>
<rect x="351.51" y="231.40" width="3.1" height="11.9" fill="#f98d0e"/>
<rect x="355.37" y="231.40" width="3.1" height="11.9" fill="#f98d0e"/>
<rect x="359.23" y="231.40" width="3.1" height="11.9" fill="#f98d0e"/>
<rect x="363.08" y="231.40" width="3.1" height="11.9" fill="#f98d0e"/>
<rect x="366.93" y="231.40" width="3.1" height="11.9" fill="#f98d0e"/>
<rect x="370.79" y="231.40" width="3.1" height="11.9" fill="#f98d0e"/>
<rect x="374.64" y="231.40" width="3.1" height="11.9" fill="#f98d0e"/>
<rect x="378.50" y="231.40" width="3.1" height="11.9" fill="#f98d0e"/>
<rect x="382.36" y="231.40" width="3.1" height="11.9" fill="#f98d0e"/>
<rect x="386.21" y="231.40" width="3.1" height="11.9" fill="#e6e6e6"/>
<rect x="390.06" y="231.40" width="3.1" height="11.9" fill="#e6e6e6"/>
<rect x="393.92" y="231.40" width="3.1" height="11.9" fill="#e6e6e6"/>
<rect x="397.77" y="231.40" width="3.1" height="11.9" fill="#e6e6e6"/>
<rect x="401.63" y="231.40" width="3.1" height="11.9" fill="#e6e6e6"/>
<rect x="405.49" y="231.40" width="3.1" height="11.9" fill="#e6e6e6"/>
<rect x="409.34" y="231.40" width="3.1" height="11.9" fill="#f98d0e"/>
<line x1="409.34" y1="231.40" x2="412.44" y2="243.30" stroke="#fff" stroke-width="1.3" opacity="0.62"/>
<rect x="413.19" y="231.40" width="3.1" height="11.9" fill="#f98d0e"/>
<rect x="417.05" y="231.40" width="3.1" height="11.9" fill="#e6e6e6"/>
<rect x="420.90" y="231.40" width="3.1" height="11.9" fill="#e6e6e6"/>
<rect x="424.76" y="231.40" width="3.1" height="11.9" fill="#e6e6e6"/>
<rect x="428.62" y="231.40" width="3.1" height="11.9" fill="#e6e6e6"/>
<rect x="432.47" y="231.40" width="3.1" height="11.9" fill="#e6e6e6"/>
<rect x="436.33" y="231.40" width="3.1" height="11.9" fill="#e6e6e6"/>
<rect x="440.18" y="231.40" width="3.1" height="11.9" fill="#e6e6e6"/>
<rect x="444.03" y="231.40" width="3.1" height="11.9" fill="#e6e6e6"/>
<rect x="447.89" y="231.40" width="3.1" height="11.9" fill="#e6e6e6"/>
<rect x="451.75" y="231.40" width="3.1" height="11.9" fill="#e6e6e6"/>
<rect x="455.60" y="231.40" width="3.1" height="11.9" fill="#e6e6e6"/>
<rect x="459.46" y="231.40" width="3.1" height="11.9" fill="#e6e6e6"/>
<rect x="463.31" y="231.40" width="3.1" height="11.9" fill="#e6e6e6"/>
<rect x="467.16" y="231.40" width="3.1" height="11.9" fill="#e6e6e6"/>
<rect x="471.02" y="231.40" width="3.1" height="11.9" fill="#e6e6e6"/>
<text x="40.5" y="252.9" font-size="7.5" text-anchor="start" font-weight="normal" fill="#1a1a1a" stroke="#1a1a1a" stroke-width="0.17" >Lung</text>
<rect x="70.10" y="244.30" width="3.1" height="11.9" fill="#3bb54a"/>
<line x1="70.10" y1="244.30" x2="73.20" y2="256.20" stroke="#fff" stroke-width="1.3" opacity="0.62"/>
<rect x="73.95" y="244.30" width="3.1" height="11.9" fill="#3bb54a"/>
<line x1="73.95" y1="244.30" x2="77.05" y2="256.20" stroke="#fff" stroke-width="1.3" opacity="0.62"/>
<rect x="77.81" y="244.30" width="3.1" height="11.9" fill="#3bb54a"/>
<rect x="81.66" y="244.30" width="3.1" height="11.9" fill="#3bb54a"/>
<rect x="85.52" y="244.30" width="3.1" height="11.9" fill="#3bb54a"/>
<rect x="89.38" y="244.30" width="3.1" height="11.9" fill="#3bb54a"/>
<rect x="93.23" y="244.30" width="3.1" height="11.9" fill="#e6e6e6"/>
<rect x="97.08" y="244.30" width="3.1" height="11.9" fill="#e6e6e6"/>
<rect x="100.94" y="244.30" width="3.1" height="11.9" fill="#e6e6e6"/>
<rect x="104.79" y="244.30" width="3.1" height="11.9" fill="#e6e6e6"/>
<rect x="108.65" y="244.30" width="3.1" height="11.9" fill="#e6e6e6"/>
<rect x="112.50" y="244.30" width="3.1" height="11.9" fill="#e6e6e6"/>
<rect x="116.36" y="244.30" width="3.1" height="11.9" fill="#e6e6e6"/>
<rect x="120.22" y="244.30" width="3.1" height="11.9" fill="#e6e6e6"/>
<rect x="124.07" y="244.30" width="3.1" height="11.9" fill="#e6e6e6"/>
<rect x="127.92" y="244.30" width="3.1" height="11.9" fill="#e6e6e6"/>
<rect x="131.78" y="244.30" width="3.1" height="11.9" fill="#e6e6e6"/>
<rect x="135.63" y="244.30" width="3.1" height="11.9" fill="#e6e6e6"/>
<rect x="139.49" y="244.30" width="3.1" height="11.9" fill="#e6e6e6"/>
<rect x="143.34" y="244.30" width="3.1" height="11.9" fill="#3bb54a"/>
<rect x="147.20" y="244.30" width="3.1" height="11.9" fill="#3bb54a"/>
<rect x="151.06" y="244.30" width="3.1" height="11.9" fill="#3bb54a"/>
<rect x="154.91" y="244.30" width="3.1" height="11.9" fill="#e6e6e6"/>
<rect x="158.76" y="244.30" width="3.1" height="11.9" fill="#e6e6e6"/>
<rect x="162.62" y="244.30" width="3.1" height="11.9" fill="#e6e6e6"/>
<rect x="166.47" y="244.30" width="3.1" height="11.9" fill="#e6e6e6"/>
<rect x="170.33" y="244.30" width="3.1" height="11.9" fill="#e6e6e6"/>
<rect x="174.19" y="244.30" width="3.1" height="11.9" fill="#3bb54a"/>
<rect x="178.04" y="244.30" width="3.1" height="11.9" fill="#3bb54a"/>
<rect x="181.89" y="244.30" width="3.1" height="11.9" fill="#e6e6e6"/>
<rect x="185.75" y="244.30" width="3.1" height="11.9" fill="#e6e6e6"/>
<rect x="189.60" y="244.30" width="3.1" height="11.9" fill="#e6e6e6"/>
<rect x="193.46" y="244.30" width="3.1" height="11.9" fill="#3bb54a"/>
<line x1="193.46" y1="244.30" x2="196.56" y2="256.20" stroke="#fff" stroke-width="1.3" opacity="0.62"/>
<rect x="197.31" y="244.30" width="3.1" height="11.9" fill="#3bb54a"/>
<line x1="197.31" y1="244.30" x2="200.41" y2="256.20" stroke="#fff" stroke-width="1.3" opacity="0.62"/>
<rect x="201.17" y="244.30" width="3.1" height="11.9" fill="#3bb54a"/>
<rect x="205.03" y="244.30" width="3.1" height="11.9" fill="#e6e6e6"/>
<rect x="208.88" y="244.30" width="3.1" height="11.9" fill="#e6e6e6"/>
<rect x="212.73" y="244.30" width="3.1" height="11.9" fill="#e6e6e6"/>
<rect x="216.59" y="244.30" width="3.1" height="11.9" fill="#e6e6e6"/>
<rect x="220.44" y="244.30" width="3.1" height="11.9" fill="#3bb54a"/>
<rect x="224.30" y="244.30" width="3.1" height="11.9" fill="#3bb54a"/>
<rect x="228.16" y="244.30" width="3.1" height="11.9" fill="#3bb54a"/>
<rect x="232.01" y="244.30" width="3.1" height="11.9" fill="#3bb54a"/>
<rect x="235.86" y="244.30" width="3.1" height="11.9" fill="#3bb54a"/>
<rect x="239.72" y="244.30" width="3.1" height="11.9" fill="#3bb54a"/>
<rect x="243.57" y="244.30" width="3.1" height="11.9" fill="#3bb54a"/>
<rect x="247.43" y="244.30" width="3.1" height="11.9" fill="#3bb54a"/>
<rect x="251.28" y="244.30" width="3.1" height="11.9" fill="#3bb54a"/>
<rect x="255.14" y="244.30" width="3.1" height="11.9" fill="#3bb54a"/>
<rect x="259.00" y="244.30" width="3.1" height="11.9" fill="#3bb54a"/>
<rect x="262.85" y="244.30" width="3.1" height="11.9" fill="#3bb54a"/>
<rect x="266.70" y="244.30" width="3.1" height="11.9" fill="#3bb54a"/>
<rect x="270.56" y="244.30" width="3.1" height="11.9" fill="#3bb54a"/>
<rect x="274.41" y="244.30" width="3.1" height="11.9" fill="#3bb54a"/>
<rect x="278.27" y="244.30" width="3.1" height="11.9" fill="#3bb54a"/>
<rect x="282.12" y="244.30" width="3.1" height="11.9" fill="#3bb54a"/>
<rect x="285.98" y="244.30" width="3.1" height="11.9" fill="#3bb54a"/>
<rect x="289.83" y="244.30" width="3.1" height="11.9" fill="#3bb54a"/>
<rect x="293.69" y="244.30" width="3.1" height="11.9" fill="#e6e6e6"/>
<rect x="297.54" y="244.30" width="3.1" height="11.9" fill="#e6e6e6"/>
<rect x="301.40" y="244.30" width="3.1" height="11.9" fill="#e6e6e6"/>
<rect x="305.25" y="244.30" width="3.1" height="11.9" fill="#e6e6e6"/>
<rect x="309.11" y="244.30" width="3.1" height="11.9" fill="#e6e6e6"/>
<rect x="312.97" y="244.30" width="3.1" height="11.9" fill="#e6e6e6"/>
<rect x="316.82" y="244.30" width="3.1" height="11.9" fill="#e6e6e6"/>
<rect x="320.67" y="244.30" width="3.1" height="11.9" fill="#e6e6e6"/>
<rect x="324.53" y="244.30" width="3.1" height="11.9" fill="#e6e6e6"/>
<rect x="328.38" y="244.30" width="3.1" height="11.9" fill="#e6e6e6"/>
<rect x="332.24" y="244.30" width="3.1" height="11.9" fill="#e6e6e6"/>
<rect x="336.10" y="244.30" width="3.1" height="11.9" fill="#e6e6e6"/>
<rect x="339.95" y="244.30" width="3.1" height="11.9" fill="#e6e6e6"/>
<rect x="343.80" y="244.30" width="3.1" height="11.9" fill="#e6e6e6"/>
<rect x="347.66" y="244.30" width="3.1" height="11.9" fill="#e6e6e6"/>
<rect x="351.51" y="244.30" width="3.1" height="11.9" fill="#e6e6e6"/>
<rect x="355.37" y="244.30" width="3.1" height="11.9" fill="#e6e6e6"/>
<rect x="359.23" y="244.30" width="3.1" height="11.9" fill="#e6e6e6"/>
<rect x="363.08" y="244.30" width="3.1" height="11.9" fill="#e6e6e6"/>
<rect x="366.93" y="244.30" width="3.1" height="11.9" fill="#e6e6e6"/>
<rect x="370.79" y="244.30" width="3.1" height="11.9" fill="#e6e6e6"/>
<rect x="374.64" y="244.30" width="3.1" height="11.9" fill="#e6e6e6"/>
<rect x="378.50" y="244.30" width="3.1" height="11.9" fill="#e6e6e6"/>
<rect x="382.36" y="244.30" width="3.1" height="11.9" fill="#e6e6e6"/>
<rect x="386.21" y="244.30" width="3.1" height="11.9" fill="#3bb54a"/>
<rect x="390.06" y="244.30" width="3.1" height="11.9" fill="#e6e6e6"/>
<rect x="393.92" y="244.30" width="3.1" height="11.9" fill="#e6e6e6"/>
<rect x="397.77" y="244.30" width="3.1" height="11.9" fill="#e6e6e6"/>
<rect x="401.63" y="244.30" width="3.1" height="11.9" fill="#e6e6e6"/>
<rect x="405.49" y="244.30" width="3.1" height="11.9" fill="#e6e6e6"/>
<rect x="409.34" y="244.30" width="3.1" height="11.9" fill="#3bb54a"/>
<rect x="413.19" y="244.30" width="3.1" height="11.9" fill="#3bb54a"/>
<rect x="417.05" y="244.30" width="3.1" height="11.9" fill="#3bb54a"/>
<line x1="417.05" y1="244.30" x2="420.15" y2="256.20" stroke="#fff" stroke-width="1.3" opacity="0.62"/>
<rect x="420.90" y="244.30" width="3.1" height="11.9" fill="#3bb54a"/>
<line x1="420.90" y1="244.30" x2="424.00" y2="256.20" stroke="#fff" stroke-width="1.3" opacity="0.62"/>
<rect x="424.76" y="244.30" width="3.1" height="11.9" fill="#3bb54a"/>
<line x1="424.76" y1="244.30" x2="427.86" y2="256.20" stroke="#fff" stroke-width="1.3" opacity="0.62"/>
<rect x="428.62" y="244.30" width="3.1" height="11.9" fill="#3bb54a"/>
<line x1="428.62" y1="244.30" x2="431.72" y2="256.20" stroke="#fff" stroke-width="1.3" opacity="0.62"/>
<rect x="432.47" y="244.30" width="3.1" height="11.9" fill="#3bb54a"/>
<line x1="432.47" y1="244.30" x2="435.57" y2="256.20" stroke="#fff" stroke-width="1.3" opacity="0.62"/>
<rect x="436.33" y="244.30" width="3.1" height="11.9" fill="#3bb54a"/>
<rect x="440.18" y="244.30" width="3.1" height="11.9" fill="#3bb54a"/>
<rect x="444.03" y="244.30" width="3.1" height="11.9" fill="#3bb54a"/>
<rect x="447.89" y="244.30" width="3.1" height="11.9" fill="#3bb54a"/>
<rect x="451.75" y="244.30" width="3.1" height="11.9" fill="#3bb54a"/>
<rect x="455.60" y="244.30" width="3.1" height="11.9" fill="#e6e6e6"/>
<rect x="459.46" y="244.30" width="3.1" height="11.9" fill="#e6e6e6"/>
<rect x="463.31" y="244.30" width="3.1" height="11.9" fill="#e6e6e6"/>
<rect x="467.16" y="244.30" width="3.1" height="11.9" fill="#e6e6e6"/>
<rect x="471.02" y="244.30" width="3.1" height="11.9" fill="#e6e6e6"/>
<text x="40.5" y="265.8" font-size="7.5" text-anchor="start" font-weight="normal" fill="#1a1a1a" stroke="#1a1a1a" stroke-width="0.17" >Liver</text>
<rect x="70.10" y="257.20" width="3.1" height="11.9" fill="#0b6b4f"/>
<line x1="70.10" y1="257.20" x2="73.20" y2="269.10" stroke="#fff" stroke-width="1.3" opacity="0.62"/>
<rect x="73.95" y="257.20" width="3.1" height="11.9" fill="#e6e6e6"/>
<rect x="77.81" y="257.20" width="3.1" height="11.9" fill="#e6e6e6"/>
<rect x="81.66" y="257.20" width="3.1" height="11.9" fill="#e6e6e6"/>
<rect x="85.52" y="257.20" width="3.1" height="11.9" fill="#e6e6e6"/>
<rect x="89.38" y="257.20" width="3.1" height="11.9" fill="#e6e6e6"/>
<rect x="93.23" y="257.20" width="3.1" height="11.9" fill="#e6e6e6"/>
<rect x="97.08" y="257.20" width="3.1" height="11.9" fill="#e6e6e6"/>
<rect x="100.94" y="257.20" width="3.1" height="11.9" fill="#e6e6e6"/>
<rect x="104.79" y="257.20" width="3.1" height="11.9" fill="#e6e6e6"/>
<rect x="108.65" y="257.20" width="3.1" height="11.9" fill="#e6e6e6"/>
<rect x="112.50" y="257.20" width="3.1" height="11.9" fill="#e6e6e6"/>
<rect x="116.36" y="257.20" width="3.1" height="11.9" fill="#e6e6e6"/>
<rect x="120.22" y="257.20" width="3.1" height="11.9" fill="#e6e6e6"/>
<rect x="124.07" y="257.20" width="3.1" height="11.9" fill="#e6e6e6"/>
<rect x="127.92" y="257.20" width="3.1" height="11.9" fill="#e6e6e6"/>
<rect x="131.78" y="257.20" width="3.1" height="11.9" fill="#e6e6e6"/>
<rect x="135.63" y="257.20" width="3.1" height="11.9" fill="#e6e6e6"/>
<rect x="139.49" y="257.20" width="3.1" height="11.9" fill="#e6e6e6"/>
<rect x="143.34" y="257.20" width="3.1" height="11.9" fill="#0b6b4f"/>
<line x1="143.34" y1="257.20" x2="146.44" y2="269.10" stroke="#fff" stroke-width="1.3" opacity="0.62"/>
<rect x="147.20" y="257.20" width="3.1" height="11.9" fill="#e6e6e6"/>
<rect x="151.06" y="257.20" width="3.1" height="11.9" fill="#e6e6e6"/>
<rect x="154.91" y="257.20" width="3.1" height="11.9" fill="#0b6b4f"/>
<line x1="154.91" y1="257.20" x2="158.01" y2="269.10" stroke="#fff" stroke-width="1.3" opacity="0.62"/>
<rect x="158.76" y="257.20" width="3.1" height="11.9" fill="#e6e6e6"/>
<rect x="162.62" y="257.20" width="3.1" height="11.9" fill="#e6e6e6"/>
<rect x="166.47" y="257.20" width="3.1" height="11.9" fill="#e6e6e6"/>
<rect x="170.33" y="257.20" width="3.1" height="11.9" fill="#e6e6e6"/>
<rect x="174.19" y="257.20" width="3.1" height="11.9" fill="#e6e6e6"/>
<rect x="178.04" y="257.20" width="3.1" height="11.9" fill="#e6e6e6"/>
<rect x="181.89" y="257.20" width="3.1" height="11.9" fill="#0b6b4f"/>
<line x1="181.89" y1="257.20" x2="184.99" y2="269.10" stroke="#fff" stroke-width="1.3" opacity="0.62"/>
<rect x="185.75" y="257.20" width="3.1" height="11.9" fill="#0b6b4f"/>
<rect x="189.60" y="257.20" width="3.1" height="11.9" fill="#e6e6e6"/>
<rect x="193.46" y="257.20" width="3.1" height="11.9" fill="#e6e6e6"/>
<rect x="197.31" y="257.20" width="3.1" height="11.9" fill="#e6e6e6"/>
<rect x="201.17" y="257.20" width="3.1" height="11.9" fill="#e6e6e6"/>
<rect x="205.03" y="257.20" width="3.1" height="11.9" fill="#e6e6e6"/>
<rect x="208.88" y="257.20" width="3.1" height="11.9" fill="#e6e6e6"/>
<rect x="212.73" y="257.20" width="3.1" height="11.9" fill="#e6e6e6"/>
<rect x="216.59" y="257.20" width="3.1" height="11.9" fill="#e6e6e6"/>
<rect x="220.44" y="257.20" width="3.1" height="11.9" fill="#0b6b4f"/>
<line x1="220.44" y1="257.20" x2="223.54" y2="269.10" stroke="#fff" stroke-width="1.3" opacity="0.62"/>
<rect x="224.30" y="257.20" width="3.1" height="11.9" fill="#0b6b4f"/>
<line x1="224.30" y1="257.20" x2="227.40" y2="269.10" stroke="#fff" stroke-width="1.3" opacity="0.62"/>
<rect x="228.16" y="257.20" width="3.1" height="11.9" fill="#0b6b4f"/>
<rect x="232.01" y="257.20" width="3.1" height="11.9" fill="#e6e6e6"/>
<rect x="235.86" y="257.20" width="3.1" height="11.9" fill="#e6e6e6"/>
<rect x="239.72" y="257.20" width="3.1" height="11.9" fill="#e6e6e6"/>
<rect x="243.57" y="257.20" width="3.1" height="11.9" fill="#e6e6e6"/>
<rect x="247.43" y="257.20" width="3.1" height="11.9" fill="#e6e6e6"/>
<rect x="251.28" y="257.20" width="3.1" height="11.9" fill="#e6e6e6"/>
<rect x="255.14" y="257.20" width="3.1" height="11.9" fill="#e6e6e6"/>
<rect x="259.00" y="257.20" width="3.1" height="11.9" fill="#e6e6e6"/>
<rect x="262.85" y="257.20" width="3.1" height="11.9" fill="#e6e6e6"/>
<rect x="266.70" y="257.20" width="3.1" height="11.9" fill="#e6e6e6"/>
<rect x="270.56" y="257.20" width="3.1" height="11.9" fill="#e6e6e6"/>
<rect x="274.41" y="257.20" width="3.1" height="11.9" fill="#e6e6e6"/>
<rect x="278.27" y="257.20" width="3.1" height="11.9" fill="#e6e6e6"/>
<rect x="282.12" y="257.20" width="3.1" height="11.9" fill="#e6e6e6"/>
<rect x="285.98" y="257.20" width="3.1" height="11.9" fill="#e6e6e6"/>
<rect x="289.83" y="257.20" width="3.1" height="11.9" fill="#e6e6e6"/>
<rect x="293.69" y="257.20" width="3.1" height="11.9" fill="#0b6b4f"/>
<line x1="293.69" y1="257.20" x2="296.79" y2="269.10" stroke="#fff" stroke-width="1.3" opacity="0.62"/>
<rect x="297.54" y="257.20" width="3.1" height="11.9" fill="#e6e6e6"/>
<rect x="301.40" y="257.20" width="3.1" height="11.9" fill="#e6e6e6"/>
<rect x="305.25" y="257.20" width="3.1" height="11.9" fill="#e6e6e6"/>
<rect x="309.11" y="257.20" width="3.1" height="11.9" fill="#e6e6e6"/>
<rect x="312.97" y="257.20" width="3.1" height="11.9" fill="#e6e6e6"/>
<rect x="316.82" y="257.20" width="3.1" height="11.9" fill="#e6e6e6"/>
<rect x="320.67" y="257.20" width="3.1" height="11.9" fill="#e6e6e6"/>
<rect x="324.53" y="257.20" width="3.1" height="11.9" fill="#e6e6e6"/>
<rect x="328.38" y="257.20" width="3.1" height="11.9" fill="#e6e6e6"/>
<rect x="332.24" y="257.20" width="3.1" height="11.9" fill="#e6e6e6"/>
<rect x="336.10" y="257.20" width="3.1" height="11.9" fill="#e6e6e6"/>
<rect x="339.95" y="257.20" width="3.1" height="11.9" fill="#e6e6e6"/>
<rect x="343.80" y="257.20" width="3.1" height="11.9" fill="#e6e6e6"/>
<rect x="347.66" y="257.20" width="3.1" height="11.9" fill="#e6e6e6"/>
<rect x="351.51" y="257.20" width="3.1" height="11.9" fill="#e6e6e6"/>
<rect x="355.37" y="257.20" width="3.1" height="11.9" fill="#e6e6e6"/>
<rect x="359.23" y="257.20" width="3.1" height="11.9" fill="#e6e6e6"/>
<rect x="363.08" y="257.20" width="3.1" height="11.9" fill="#e6e6e6"/>
<rect x="366.93" y="257.20" width="3.1" height="11.9" fill="#e6e6e6"/>
<rect x="370.79" y="257.20" width="3.1" height="11.9" fill="#e6e6e6"/>
<rect x="374.64" y="257.20" width="3.1" height="11.9" fill="#e6e6e6"/>
<rect x="378.50" y="257.20" width="3.1" height="11.9" fill="#e6e6e6"/>
<rect x="382.36" y="257.20" width="3.1" height="11.9" fill="#e6e6e6"/>
<rect x="386.21" y="257.20" width="3.1" height="11.9" fill="#0b6b4f"/>
<line x1="386.21" y1="257.20" x2="389.31" y2="269.10" stroke="#fff" stroke-width="1.3" opacity="0.62"/>
<rect x="390.06" y="257.20" width="3.1" height="11.9" fill="#0b6b4f"/>
<line x1="390.06" y1="257.20" x2="393.16" y2="269.10" stroke="#fff" stroke-width="1.3" opacity="0.62"/>
<rect x="393.92" y="257.20" width="3.1" height="11.9" fill="#e6e6e6"/>
<rect x="397.77" y="257.20" width="3.1" height="11.9" fill="#e6e6e6"/>
<rect x="401.63" y="257.20" width="3.1" height="11.9" fill="#e6e6e6"/>
<rect x="405.49" y="257.20" width="3.1" height="11.9" fill="#e6e6e6"/>
<rect x="409.34" y="257.20" width="3.1" height="11.9" fill="#e6e6e6"/>
<rect x="413.19" y="257.20" width="3.1" height="11.9" fill="#e6e6e6"/>
<rect x="417.05" y="257.20" width="3.1" height="11.9" fill="#0b6b4f"/>
<rect x="420.90" y="257.20" width="3.1" height="11.9" fill="#e6e6e6"/>
<rect x="424.76" y="257.20" width="3.1" height="11.9" fill="#e6e6e6"/>
<rect x="428.62" y="257.20" width="3.1" height="11.9" fill="#e6e6e6"/>
<rect x="432.47" y="257.20" width="3.1" height="11.9" fill="#e6e6e6"/>
<rect x="436.33" y="257.20" width="3.1" height="11.9" fill="#0b6b4f"/>
<line x1="436.33" y1="257.20" x2="439.43" y2="269.10" stroke="#fff" stroke-width="1.3" opacity="0.62"/>
<rect x="440.18" y="257.20" width="3.1" height="11.9" fill="#0b6b4f"/>
<rect x="444.03" y="257.20" width="3.1" height="11.9" fill="#e6e6e6"/>
<rect x="447.89" y="257.20" width="3.1" height="11.9" fill="#e6e6e6"/>
<rect x="451.75" y="257.20" width="3.1" height="11.9" fill="#e6e6e6"/>
<rect x="455.60" y="257.20" width="3.1" height="11.9" fill="#e6e6e6"/>
<rect x="459.46" y="257.20" width="3.1" height="11.9" fill="#0b6b4f"/>
<line x1="459.46" y1="257.20" x2="462.56" y2="269.10" stroke="#fff" stroke-width="1.3" opacity="0.62"/>
<rect x="463.31" y="257.20" width="3.1" height="11.9" fill="#0b6b4f"/>
<line x1="463.31" y1="257.20" x2="466.41" y2="269.10" stroke="#fff" stroke-width="1.3" opacity="0.62"/>
<rect x="467.16" y="257.20" width="3.1" height="11.9" fill="#0b6b4f"/>
<line x1="467.16" y1="257.20" x2="470.26" y2="269.10" stroke="#fff" stroke-width="1.3" opacity="0.62"/>
<rect x="471.02" y="257.20" width="3.1" height="11.9" fill="#0b6b4f"/>
<text x="40.5" y="278.70000000000005" font-size="7.5" text-anchor="start" font-weight="normal" fill="#1a1a1a" stroke="#1a1a1a" stroke-width="0.17" >GI</text>
<rect x="70.10" y="270.10" width="3.1" height="11.9" fill="#e6e6e6"/>
<rect x="73.95" y="270.10" width="3.1" height="11.9" fill="#5c2373"/>
<rect x="77.81" y="270.10" width="3.1" height="11.9" fill="#5c2373"/>
<line x1="77.81" y1="270.10" x2="80.91" y2="282.00" stroke="#fff" stroke-width="1.3" opacity="0.62"/>
<rect x="81.66" y="270.10" width="3.1" height="11.9" fill="#5c2373"/>
<rect x="85.52" y="270.10" width="3.1" height="11.9" fill="#e6e6e6"/>
<rect x="89.38" y="270.10" width="3.1" height="11.9" fill="#e6e6e6"/>
<rect x="93.23" y="270.10" width="3.1" height="11.9" fill="#5c2373"/>
<line x1="93.23" y1="270.10" x2="96.33" y2="282.00" stroke="#fff" stroke-width="1.3" opacity="0.62"/>
<rect x="97.08" y="270.10" width="3.1" height="11.9" fill="#5c2373"/>
<rect x="100.94" y="270.10" width="3.1" height="11.9" fill="#5c2373"/>
<rect x="104.79" y="270.10" width="3.1" height="11.9" fill="#e6e6e6"/>
<rect x="108.65" y="270.10" width="3.1" height="11.9" fill="#e6e6e6"/>
<rect x="112.50" y="270.10" width="3.1" height="11.9" fill="#e6e6e6"/>
<rect x="116.36" y="270.10" width="3.1" height="11.9" fill="#e6e6e6"/>
<rect x="120.22" y="270.10" width="3.1" height="11.9" fill="#e6e6e6"/>
<rect x="124.07" y="270.10" width="3.1" height="11.9" fill="#e6e6e6"/>
<rect x="127.92" y="270.10" width="3.1" height="11.9" fill="#e6e6e6"/>
<rect x="131.78" y="270.10" width="3.1" height="11.9" fill="#e6e6e6"/>
<rect x="135.63" y="270.10" width="3.1" height="11.9" fill="#e6e6e6"/>
<rect x="139.49" y="270.10" width="3.1" height="11.9" fill="#e6e6e6"/>
<rect x="143.34" y="270.10" width="3.1" height="11.9" fill="#e6e6e6"/>
<rect x="147.20" y="270.10" width="3.1" height="11.9" fill="#e6e6e6"/>
<rect x="151.06" y="270.10" width="3.1" height="11.9" fill="#e6e6e6"/>
<rect x="154.91" y="270.10" width="3.1" height="11.9" fill="#e6e6e6"/>
<rect x="158.76" y="270.10" width="3.1" height="11.9" fill="#e6e6e6"/>
<rect x="162.62" y="270.10" width="3.1" height="11.9" fill="#e6e6e6"/>
<rect x="166.47" y="270.10" width="3.1" height="11.9" fill="#e6e6e6"/>
<rect x="170.33" y="270.10" width="3.1" height="11.9" fill="#e6e6e6"/>
<rect x="174.19" y="270.10" width="3.1" height="11.9" fill="#e6e6e6"/>
<rect x="178.04" y="270.10" width="3.1" height="11.9" fill="#e6e6e6"/>
<rect x="181.89" y="270.10" width="3.1" height="11.9" fill="#e6e6e6"/>
<rect x="185.75" y="270.10" width="3.1" height="11.9" fill="#e6e6e6"/>
<rect x="189.60" y="270.10" width="3.1" height="11.9" fill="#e6e6e6"/>
<rect x="193.46" y="270.10" width="3.1" height="11.9" fill="#5c2373"/>
<line x1="193.46" y1="270.10" x2="196.56" y2="282.00" stroke="#fff" stroke-width="1.3" opacity="0.62"/>
<rect x="197.31" y="270.10" width="3.1" height="11.9" fill="#e6e6e6"/>
<rect x="201.17" y="270.10" width="3.1" height="11.9" fill="#e6e6e6"/>
<rect x="205.03" y="270.10" width="3.1" height="11.9" fill="#5c2373"/>
<line x1="205.03" y1="270.10" x2="208.12" y2="282.00" stroke="#fff" stroke-width="1.3" opacity="0.62"/>
<rect x="208.88" y="270.10" width="3.1" height="11.9" fill="#e6e6e6"/>
<rect x="212.73" y="270.10" width="3.1" height="11.9" fill="#e6e6e6"/>
<rect x="216.59" y="270.10" width="3.1" height="11.9" fill="#e6e6e6"/>
<rect x="220.44" y="270.10" width="3.1" height="11.9" fill="#5c2373"/>
<line x1="220.44" y1="270.10" x2="223.54" y2="282.00" stroke="#fff" stroke-width="1.3" opacity="0.62"/>
<rect x="224.30" y="270.10" width="3.1" height="11.9" fill="#5c2373"/>
<line x1="224.30" y1="270.10" x2="227.40" y2="282.00" stroke="#fff" stroke-width="1.3" opacity="0.62"/>
<rect x="228.16" y="270.10" width="3.1" height="11.9" fill="#e6e6e6"/>
<rect x="232.01" y="270.10" width="3.1" height="11.9" fill="#e6e6e6"/>
<rect x="235.86" y="270.10" width="3.1" height="11.9" fill="#e6e6e6"/>
<rect x="239.72" y="270.10" width="3.1" height="11.9" fill="#5c2373"/>
<rect x="243.57" y="270.10" width="3.1" height="11.9" fill="#e6e6e6"/>
<rect x="247.43" y="270.10" width="3.1" height="11.9" fill="#e6e6e6"/>
<rect x="251.28" y="270.10" width="3.1" height="11.9" fill="#e6e6e6"/>
<rect x="255.14" y="270.10" width="3.1" height="11.9" fill="#e6e6e6"/>
<rect x="259.00" y="270.10" width="3.1" height="11.9" fill="#e6e6e6"/>
<rect x="262.85" y="270.10" width="3.1" height="11.9" fill="#e6e6e6"/>
<rect x="266.70" y="270.10" width="3.1" height="11.9" fill="#e6e6e6"/>
<rect x="270.56" y="270.10" width="3.1" height="11.9" fill="#e6e6e6"/>
<rect x="274.41" y="270.10" width="3.1" height="11.9" fill="#e6e6e6"/>
<rect x="278.27" y="270.10" width="3.1" height="11.9" fill="#e6e6e6"/>
<rect x="282.12" y="270.10" width="3.1" height="11.9" fill="#e6e6e6"/>
<rect x="285.98" y="270.10" width="3.1" height="11.9" fill="#e6e6e6"/>
<rect x="289.83" y="270.10" width="3.1" height="11.9" fill="#e6e6e6"/>
<rect x="293.69" y="270.10" width="3.1" height="11.9" fill="#5c2373"/>
<rect x="297.54" y="270.10" width="3.1" height="11.9" fill="#5c2373"/>
<line x1="297.54" y1="270.10" x2="300.64" y2="282.00" stroke="#fff" stroke-width="1.3" opacity="0.62"/>
<rect x="301.40" y="270.10" width="3.1" height="11.9" fill="#5c2373"/>
<line x1="301.40" y1="270.10" x2="304.50" y2="282.00" stroke="#fff" stroke-width="1.3" opacity="0.62"/>
<rect x="305.25" y="270.10" width="3.1" height="11.9" fill="#e6e6e6"/>
<rect x="309.11" y="270.10" width="3.1" height="11.9" fill="#e6e6e6"/>
<rect x="312.97" y="270.10" width="3.1" height="11.9" fill="#e6e6e6"/>
<rect x="316.82" y="270.10" width="3.1" height="11.9" fill="#5c2373"/>
<rect x="320.67" y="270.10" width="3.1" height="11.9" fill="#e6e6e6"/>
<rect x="324.53" y="270.10" width="3.1" height="11.9" fill="#e6e6e6"/>
<rect x="328.38" y="270.10" width="3.1" height="11.9" fill="#e6e6e6"/>
<rect x="332.24" y="270.10" width="3.1" height="11.9" fill="#e6e6e6"/>
<rect x="336.10" y="270.10" width="3.1" height="11.9" fill="#e6e6e6"/>
<rect x="339.95" y="270.10" width="3.1" height="11.9" fill="#e6e6e6"/>
<rect x="343.80" y="270.10" width="3.1" height="11.9" fill="#e6e6e6"/>
<rect x="347.66" y="270.10" width="3.1" height="11.9" fill="#e6e6e6"/>
<rect x="351.51" y="270.10" width="3.1" height="11.9" fill="#e6e6e6"/>
<rect x="355.37" y="270.10" width="3.1" height="11.9" fill="#e6e6e6"/>
<rect x="359.23" y="270.10" width="3.1" height="11.9" fill="#e6e6e6"/>
<rect x="363.08" y="270.10" width="3.1" height="11.9" fill="#e6e6e6"/>
<rect x="366.93" y="270.10" width="3.1" height="11.9" fill="#e6e6e6"/>
<rect x="370.79" y="270.10" width="3.1" height="11.9" fill="#e6e6e6"/>
<rect x="374.64" y="270.10" width="3.1" height="11.9" fill="#e6e6e6"/>
<rect x="378.50" y="270.10" width="3.1" height="11.9" fill="#e6e6e6"/>
<rect x="382.36" y="270.10" width="3.1" height="11.9" fill="#e6e6e6"/>
<rect x="386.21" y="270.10" width="3.1" height="11.9" fill="#5c2373"/>
<line x1="386.21" y1="270.10" x2="389.31" y2="282.00" stroke="#fff" stroke-width="1.3" opacity="0.62"/>
<rect x="390.06" y="270.10" width="3.1" height="11.9" fill="#e6e6e6"/>
<rect x="393.92" y="270.10" width="3.1" height="11.9" fill="#e6e6e6"/>
<rect x="397.77" y="270.10" width="3.1" height="11.9" fill="#e6e6e6"/>
<rect x="401.63" y="270.10" width="3.1" height="11.9" fill="#e6e6e6"/>
<rect x="405.49" y="270.10" width="3.1" height="11.9" fill="#e6e6e6"/>
<rect x="409.34" y="270.10" width="3.1" height="11.9" fill="#e6e6e6"/>
<rect x="413.19" y="270.10" width="3.1" height="11.9" fill="#e6e6e6"/>
<rect x="417.05" y="270.10" width="3.1" height="11.9" fill="#e6e6e6"/>
<rect x="420.90" y="270.10" width="3.1" height="11.9" fill="#e6e6e6"/>
<rect x="424.76" y="270.10" width="3.1" height="11.9" fill="#e6e6e6"/>
<rect x="428.62" y="270.10" width="3.1" height="11.9" fill="#e6e6e6"/>
<rect x="432.47" y="270.10" width="3.1" height="11.9" fill="#e6e6e6"/>
<rect x="436.33" y="270.10" width="3.1" height="11.9" fill="#e6e6e6"/>
<rect x="440.18" y="270.10" width="3.1" height="11.9" fill="#e6e6e6"/>
<rect x="444.03" y="270.10" width="3.1" height="11.9" fill="#e6e6e6"/>
<rect x="447.89" y="270.10" width="3.1" height="11.9" fill="#e6e6e6"/>
<rect x="451.75" y="270.10" width="3.1" height="11.9" fill="#e6e6e6"/>
<rect x="455.60" y="270.10" width="3.1" height="11.9" fill="#e6e6e6"/>
<rect x="459.46" y="270.10" width="3.1" height="11.9" fill="#e6e6e6"/>
<rect x="463.31" y="270.10" width="3.1" height="11.9" fill="#e6e6e6"/>
<rect x="467.16" y="270.10" width="3.1" height="11.9" fill="#e6e6e6"/>
<rect x="471.02" y="270.10" width="3.1" height="11.9" fill="#e6e6e6"/>
<text x="40.5" y="291.6" font-size="7.5" text-anchor="start" font-weight="normal" fill="#1a1a1a" stroke="#1a1a1a" stroke-width="0.17" >Genital</text>
<rect x="70.10" y="283.00" width="3.1" height="11.9" fill="#e6e6e6"/>
<rect x="73.95" y="283.00" width="3.1" height="11.9" fill="#e6e6e6"/>
<rect x="77.81" y="283.00" width="3.1" height="11.9" fill="#e6e6e6"/>
<rect x="81.66" y="283.00" width="3.1" height="11.9" fill="#e6e6e6"/>
<rect x="85.52" y="283.00" width="3.1" height="11.9" fill="#e6e6e6"/>
<rect x="89.38" y="283.00" width="3.1" height="11.9" fill="#e6e6e6"/>
<rect x="93.23" y="283.00" width="3.1" height="11.9" fill="#e6e6e6"/>
<rect x="97.08" y="283.00" width="3.1" height="11.9" fill="#e6e6e6"/>
<rect x="100.94" y="283.00" width="3.1" height="11.9" fill="#e6e6e6"/>
<rect x="104.79" y="283.00" width="3.1" height="11.9" fill="#e6e6e6"/>
<rect x="108.65" y="283.00" width="3.1" height="11.9" fill="#e6e6e6"/>
<rect x="112.50" y="283.00" width="3.1" height="11.9" fill="#e6e6e6"/>
<rect x="116.36" y="283.00" width="3.1" height="11.9" fill="#e6e6e6"/>
<rect x="120.22" y="283.00" width="3.1" height="11.9" fill="#e6e6e6"/>
<rect x="124.07" y="283.00" width="3.1" height="11.9" fill="#e6e6e6"/>
<rect x="127.92" y="283.00" width="3.1" height="11.9" fill="#e6e6e6"/>
<rect x="131.78" y="283.00" width="3.1" height="11.9" fill="#e6e6e6"/>
<rect x="135.63" y="283.00" width="3.1" height="11.9" fill="#e6e6e6"/>
<rect x="139.49" y="283.00" width="3.1" height="11.9" fill="#e6e6e6"/>
<rect x="143.34" y="283.00" width="3.1" height="11.9" fill="#8b84c8"/>
<rect x="147.20" y="283.00" width="3.1" height="11.9" fill="#e6e6e6"/>
<rect x="151.06" y="283.00" width="3.1" height="11.9" fill="#e6e6e6"/>
<rect x="154.91" y="283.00" width="3.1" height="11.9" fill="#e6e6e6"/>
<rect x="158.76" y="283.00" width="3.1" height="11.9" fill="#e6e6e6"/>
<rect x="162.62" y="283.00" width="3.1" height="11.9" fill="#e6e6e6"/>
<rect x="166.47" y="283.00" width="3.1" height="11.9" fill="#e6e6e6"/>
<rect x="170.33" y="283.00" width="3.1" height="11.9" fill="#e6e6e6"/>
<rect x="174.19" y="283.00" width="3.1" height="11.9" fill="#e6e6e6"/>
<rect x="178.04" y="283.00" width="3.1" height="11.9" fill="#e6e6e6"/>
<rect x="181.89" y="283.00" width="3.1" height="11.9" fill="#e6e6e6"/>
<rect x="185.75" y="283.00" width="3.1" height="11.9" fill="#8b84c8"/>
<rect x="189.60" y="283.00" width="3.1" height="11.9" fill="#e6e6e6"/>
<rect x="193.46" y="283.00" width="3.1" height="11.9" fill="#e6e6e6"/>
<rect x="197.31" y="283.00" width="3.1" height="11.9" fill="#e6e6e6"/>
<rect x="201.17" y="283.00" width="3.1" height="11.9" fill="#e6e6e6"/>
<rect x="205.03" y="283.00" width="3.1" height="11.9" fill="#e6e6e6"/>
<rect x="208.88" y="283.00" width="3.1" height="11.9" fill="#e6e6e6"/>
<rect x="212.73" y="283.00" width="3.1" height="11.9" fill="#e6e6e6"/>
<rect x="216.59" y="283.00" width="3.1" height="11.9" fill="#e6e6e6"/>
<rect x="220.44" y="283.00" width="3.1" height="11.9" fill="#e6e6e6"/>
<rect x="224.30" y="283.00" width="3.1" height="11.9" fill="#e6e6e6"/>
<rect x="228.16" y="283.00" width="3.1" height="11.9" fill="#e6e6e6"/>
<rect x="232.01" y="283.00" width="3.1" height="11.9" fill="#e6e6e6"/>
<rect x="235.86" y="283.00" width="3.1" height="11.9" fill="#e6e6e6"/>
<rect x="239.72" y="283.00" width="3.1" height="11.9" fill="#e6e6e6"/>
<rect x="243.57" y="283.00" width="3.1" height="11.9" fill="#e6e6e6"/>
<rect x="247.43" y="283.00" width="3.1" height="11.9" fill="#e6e6e6"/>
<rect x="251.28" y="283.00" width="3.1" height="11.9" fill="#e6e6e6"/>
<rect x="255.14" y="283.00" width="3.1" height="11.9" fill="#e6e6e6"/>
<rect x="259.00" y="283.00" width="3.1" height="11.9" fill="#e6e6e6"/>
<rect x="262.85" y="283.00" width="3.1" height="11.9" fill="#e6e6e6"/>
<rect x="266.70" y="283.00" width="3.1" height="11.9" fill="#e6e6e6"/>
<rect x="270.56" y="283.00" width="3.1" height="11.9" fill="#e6e6e6"/>
<rect x="274.41" y="283.00" width="3.1" height="11.9" fill="#e6e6e6"/>
<rect x="278.27" y="283.00" width="3.1" height="11.9" fill="#e6e6e6"/>
<rect x="282.12" y="283.00" width="3.1" height="11.9" fill="#e6e6e6"/>
<rect x="285.98" y="283.00" width="3.1" height="11.9" fill="#e6e6e6"/>
<rect x="289.83" y="283.00" width="3.1" height="11.9" fill="#e6e6e6"/>
<rect x="293.69" y="283.00" width="3.1" height="11.9" fill="#e6e6e6"/>
<rect x="297.54" y="283.00" width="3.1" height="11.9" fill="#e6e6e6"/>
<rect x="301.40" y="283.00" width="3.1" height="11.9" fill="#e6e6e6"/>
<rect x="305.25" y="283.00" width="3.1" height="11.9" fill="#e6e6e6"/>
<rect x="309.11" y="283.00" width="3.1" height="11.9" fill="#e6e6e6"/>
<rect x="312.97" y="283.00" width="3.1" height="11.9" fill="#e6e6e6"/>
<rect x="316.82" y="283.00" width="3.1" height="11.9" fill="#e6e6e6"/>
<rect x="320.67" y="283.00" width="3.1" height="11.9" fill="#e6e6e6"/>
<rect x="324.53" y="283.00" width="3.1" height="11.9" fill="#e6e6e6"/>
<rect x="328.38" y="283.00" width="3.1" height="11.9" fill="#e6e6e6"/>
<rect x="332.24" y="283.00" width="3.1" height="11.9" fill="#e6e6e6"/>
<rect x="336.10" y="283.00" width="3.1" height="11.9" fill="#e6e6e6"/>
<rect x="339.95" y="283.00" width="3.1" height="11.9" fill="#e6e6e6"/>
<rect x="343.80" y="283.00" width="3.1" height="11.9" fill="#e6e6e6"/>
<rect x="347.66" y="283.00" width="3.1" height="11.9" fill="#e6e6e6"/>
<rect x="351.51" y="283.00" width="3.1" height="11.9" fill="#e6e6e6"/>
<rect x="355.37" y="283.00" width="3.1" height="11.9" fill="#e6e6e6"/>
<rect x="359.23" y="283.00" width="3.1" height="11.9" fill="#e6e6e6"/>
<rect x="363.08" y="283.00" width="3.1" height="11.9" fill="#e6e6e6"/>
<rect x="366.93" y="283.00" width="3.1" height="11.9" fill="#e6e6e6"/>
<rect x="370.79" y="283.00" width="3.1" height="11.9" fill="#e6e6e6"/>
<rect x="374.64" y="283.00" width="3.1" height="11.9" fill="#e6e6e6"/>
<rect x="378.50" y="283.00" width="3.1" height="11.9" fill="#e6e6e6"/>
<rect x="382.36" y="283.00" width="3.1" height="11.9" fill="#e6e6e6"/>
<rect x="386.21" y="283.00" width="3.1" height="11.9" fill="#8b84c8"/>
<rect x="390.06" y="283.00" width="3.1" height="11.9" fill="#e6e6e6"/>
<rect x="393.92" y="283.00" width="3.1" height="11.9" fill="#e6e6e6"/>
<rect x="397.77" y="283.00" width="3.1" height="11.9" fill="#e6e6e6"/>
<rect x="401.63" y="283.00" width="3.1" height="11.9" fill="#e6e6e6"/>
<rect x="405.49" y="283.00" width="3.1" height="11.9" fill="#e6e6e6"/>
<rect x="409.34" y="283.00" width="3.1" height="11.9" fill="#e6e6e6"/>
<rect x="413.19" y="283.00" width="3.1" height="11.9" fill="#e6e6e6"/>
<rect x="417.05" y="283.00" width="3.1" height="11.9" fill="#e6e6e6"/>
<rect x="420.90" y="283.00" width="3.1" height="11.9" fill="#e6e6e6"/>
<rect x="424.76" y="283.00" width="3.1" height="11.9" fill="#e6e6e6"/>
<rect x="428.62" y="283.00" width="3.1" height="11.9" fill="#e6e6e6"/>
<rect x="432.47" y="283.00" width="3.1" height="11.9" fill="#e6e6e6"/>
<rect x="436.33" y="283.00" width="3.1" height="11.9" fill="#8b84c8"/>
<rect x="440.18" y="283.00" width="3.1" height="11.9" fill="#e6e6e6"/>
<rect x="444.03" y="283.00" width="3.1" height="11.9" fill="#e6e6e6"/>
<rect x="447.89" y="283.00" width="3.1" height="11.9" fill="#e6e6e6"/>
<rect x="451.75" y="283.00" width="3.1" height="11.9" fill="#e6e6e6"/>
<rect x="455.60" y="283.00" width="3.1" height="11.9" fill="#e6e6e6"/>
<rect x="459.46" y="283.00" width="3.1" height="11.9" fill="#8b84c8"/>
<rect x="463.31" y="283.00" width="3.1" height="11.9" fill="#e6e6e6"/>
<rect x="467.16" y="283.00" width="3.1" height="11.9" fill="#e6e6e6"/>
<rect x="471.02" y="283.00" width="3.1" height="11.9" fill="#e6e6e6"/>
<text x="40.5" y="304.5" font-size="7.5" text-anchor="start" font-weight="normal" fill="#1a1a1a" stroke="#1a1a1a" stroke-width="0.17" >Eyes</text>
<rect x="70.10" y="295.90" width="3.1" height="11.9" fill="#44505f"/>
<rect x="73.95" y="295.90" width="3.1" height="11.9" fill="#e6e6e6"/>
<rect x="77.81" y="295.90" width="3.1" height="11.9" fill="#44505f"/>
<rect x="81.66" y="295.90" width="3.1" height="11.9" fill="#e6e6e6"/>
<rect x="85.52" y="295.90" width="3.1" height="11.9" fill="#44505f"/>
<rect x="89.38" y="295.90" width="3.1" height="11.9" fill="#44505f"/>
<rect x="93.23" y="295.90" width="3.1" height="11.9" fill="#44505f"/>
<rect x="97.08" y="295.90" width="3.1" height="11.9" fill="#44505f"/>
<rect x="100.94" y="295.90" width="3.1" height="11.9" fill="#44505f"/>
<rect x="104.79" y="295.90" width="3.1" height="11.9" fill="#e6e6e6"/>
<rect x="108.65" y="295.90" width="3.1" height="11.9" fill="#e6e6e6"/>
<rect x="112.50" y="295.90" width="3.1" height="11.9" fill="#e6e6e6"/>
<rect x="116.36" y="295.90" width="3.1" height="11.9" fill="#44505f"/>
<rect x="120.22" y="295.90" width="3.1" height="11.9" fill="#44505f"/>
<rect x="124.07" y="295.90" width="3.1" height="11.9" fill="#44505f"/>
<rect x="127.92" y="295.90" width="3.1" height="11.9" fill="#44505f"/>
<rect x="131.78" y="295.90" width="3.1" height="11.9" fill="#44505f"/>
<rect x="135.63" y="295.90" width="3.1" height="11.9" fill="#44505f"/>
<rect x="139.49" y="295.90" width="3.1" height="11.9" fill="#e6e6e6"/>
<rect x="143.34" y="295.90" width="3.1" height="11.9" fill="#44505f"/>
<rect x="147.20" y="295.90" width="3.1" height="11.9" fill="#e6e6e6"/>
<rect x="151.06" y="295.90" width="3.1" height="11.9" fill="#44505f"/>
<rect x="154.91" y="295.90" width="3.1" height="11.9" fill="#e6e6e6"/>
<rect x="158.76" y="295.90" width="3.1" height="11.9" fill="#e6e6e6"/>
<rect x="162.62" y="295.90" width="3.1" height="11.9" fill="#44505f"/>
<rect x="166.47" y="295.90" width="3.1" height="11.9" fill="#e6e6e6"/>
<rect x="170.33" y="295.90" width="3.1" height="11.9" fill="#44505f"/>
<rect x="174.19" y="295.90" width="3.1" height="11.9" fill="#44505f"/>
<rect x="178.04" y="295.90" width="3.1" height="11.9" fill="#44505f"/>
<rect x="181.89" y="295.90" width="3.1" height="11.9" fill="#e6e6e6"/>
<rect x="185.75" y="295.90" width="3.1" height="11.9" fill="#44505f"/>
<rect x="189.60" y="295.90" width="3.1" height="11.9" fill="#e6e6e6"/>
<rect x="193.46" y="295.90" width="3.1" height="11.9" fill="#44505f"/>
<rect x="197.31" y="295.90" width="3.1" height="11.9" fill="#e6e6e6"/>
<rect x="201.17" y="295.90" width="3.1" height="11.9" fill="#e6e6e6"/>
<rect x="205.03" y="295.90" width="3.1" height="11.9" fill="#44505f"/>
<rect x="208.88" y="295.90" width="3.1" height="11.9" fill="#44505f"/>
<rect x="212.73" y="295.90" width="3.1" height="11.9" fill="#e6e6e6"/>
<rect x="216.59" y="295.90" width="3.1" height="11.9" fill="#44505f"/>
<rect x="220.44" y="295.90" width="3.1" height="11.9" fill="#e6e6e6"/>
<rect x="224.30" y="295.90" width="3.1" height="11.9" fill="#44505f"/>
<rect x="228.16" y="295.90" width="3.1" height="11.9" fill="#44505f"/>
<rect x="232.01" y="295.90" width="3.1" height="11.9" fill="#44505f"/>
<rect x="235.86" y="295.90" width="3.1" height="11.9" fill="#44505f"/>
<rect x="239.72" y="295.90" width="3.1" height="11.9" fill="#e6e6e6"/>
<rect x="243.57" y="295.90" width="3.1" height="11.9" fill="#44505f"/>
<rect x="247.43" y="295.90" width="3.1" height="11.9" fill="#44505f"/>
<rect x="251.28" y="295.90" width="3.1" height="11.9" fill="#44505f"/>
<rect x="255.14" y="295.90" width="3.1" height="11.9" fill="#44505f"/>
<rect x="259.00" y="295.90" width="3.1" height="11.9" fill="#44505f"/>
<rect x="262.85" y="295.90" width="3.1" height="11.9" fill="#e6e6e6"/>
<rect x="266.70" y="295.90" width="3.1" height="11.9" fill="#44505f"/>
<rect x="270.56" y="295.90" width="3.1" height="11.9" fill="#44505f"/>
<rect x="274.41" y="295.90" width="3.1" height="11.9" fill="#44505f"/>
<rect x="278.27" y="295.90" width="3.1" height="11.9" fill="#44505f"/>
<rect x="282.12" y="295.90" width="3.1" height="11.9" fill="#e6e6e6"/>
<rect x="285.98" y="295.90" width="3.1" height="11.9" fill="#e6e6e6"/>
<rect x="289.83" y="295.90" width="3.1" height="11.9" fill="#44505f"/>
<rect x="293.69" y="295.90" width="3.1" height="11.9" fill="#44505f"/>
<rect x="297.54" y="295.90" width="3.1" height="11.9" fill="#e6e6e6"/>
<rect x="301.40" y="295.90" width="3.1" height="11.9" fill="#e6e6e6"/>
<rect x="305.25" y="295.90" width="3.1" height="11.9" fill="#44505f"/>
<rect x="309.11" y="295.90" width="3.1" height="11.9" fill="#44505f"/>
<rect x="312.97" y="295.90" width="3.1" height="11.9" fill="#44505f"/>
<rect x="316.82" y="295.90" width="3.1" height="11.9" fill="#44505f"/>
<rect x="320.67" y="295.90" width="3.1" height="11.9" fill="#e6e6e6"/>
<rect x="324.53" y="295.90" width="3.1" height="11.9" fill="#44505f"/>
<rect x="328.38" y="295.90" width="3.1" height="11.9" fill="#44505f"/>
<rect x="332.24" y="295.90" width="3.1" height="11.9" fill="#e6e6e6"/>
<rect x="336.10" y="295.90" width="3.1" height="11.9" fill="#44505f"/>
<rect x="339.95" y="295.90" width="3.1" height="11.9" fill="#44505f"/>
<rect x="343.80" y="295.90" width="3.1" height="11.9" fill="#44505f"/>
<rect x="347.66" y="295.90" width="3.1" height="11.9" fill="#44505f"/>
<rect x="351.51" y="295.90" width="3.1" height="11.9" fill="#44505f"/>
<rect x="355.37" y="295.90" width="3.1" height="11.9" fill="#44505f"/>
<rect x="359.23" y="295.90" width="3.1" height="11.9" fill="#e6e6e6"/>
<rect x="363.08" y="295.90" width="3.1" height="11.9" fill="#e6e6e6"/>
<rect x="366.93" y="295.90" width="3.1" height="11.9" fill="#44505f"/>
<rect x="370.79" y="295.90" width="3.1" height="11.9" fill="#e6e6e6"/>
<rect x="374.64" y="295.90" width="3.1" height="11.9" fill="#e6e6e6"/>
<rect x="378.50" y="295.90" width="3.1" height="11.9" fill="#44505f"/>
<rect x="382.36" y="295.90" width="3.1" height="11.9" fill="#e6e6e6"/>
<rect x="386.21" y="295.90" width="3.1" height="11.9" fill="#44505f"/>
<rect x="390.06" y="295.90" width="3.1" height="11.9" fill="#44505f"/>
<rect x="393.92" y="295.90" width="3.1" height="11.9" fill="#e6e6e6"/>
<rect x="397.77" y="295.90" width="3.1" height="11.9" fill="#e6e6e6"/>
<rect x="401.63" y="295.90" width="3.1" height="11.9" fill="#e6e6e6"/>
<rect x="405.49" y="295.90" width="3.1" height="11.9" fill="#e6e6e6"/>
<rect x="409.34" y="295.90" width="3.1" height="11.9" fill="#e6e6e6"/>
<rect x="413.19" y="295.90" width="3.1" height="11.9" fill="#44505f"/>
<rect x="417.05" y="295.90" width="3.1" height="11.9" fill="#44505f"/>
<rect x="420.90" y="295.90" width="3.1" height="11.9" fill="#44505f"/>
<rect x="424.76" y="295.90" width="3.1" height="11.9" fill="#44505f"/>
<rect x="428.62" y="295.90" width="3.1" height="11.9" fill="#44505f"/>
<rect x="432.47" y="295.90" width="3.1" height="11.9" fill="#44505f"/>
<rect x="436.33" y="295.90" width="3.1" height="11.9" fill="#44505f"/>
<rect x="440.18" y="295.90" width="3.1" height="11.9" fill="#44505f"/>
<rect x="444.03" y="295.90" width="3.1" height="11.9" fill="#44505f"/>
<rect x="447.89" y="295.90" width="3.1" height="11.9" fill="#e6e6e6"/>
<rect x="451.75" y="295.90" width="3.1" height="11.9" fill="#e6e6e6"/>
<rect x="455.60" y="295.90" width="3.1" height="11.9" fill="#44505f"/>
<rect x="459.46" y="295.90" width="3.1" height="11.9" fill="#44505f"/>
<rect x="463.31" y="295.90" width="3.1" height="11.9" fill="#e6e6e6"/>
<rect x="467.16" y="295.90" width="3.1" height="11.9" fill="#e6e6e6"/>
<rect x="471.02" y="295.90" width="3.1" height="11.9" fill="#44505f"/>
<text x="40.5" y="317.40000000000003" font-size="7.5" text-anchor="start" font-weight="normal" fill="#1a1a1a" stroke="#1a1a1a" stroke-width="0.17" >Mouth</text>
<rect x="70.10" y="308.80" width="3.1" height="11.9" fill="#2aa7e1"/>
<rect x="73.95" y="308.80" width="3.1" height="11.9" fill="#e6e6e6"/>
<rect x="77.81" y="308.80" width="3.1" height="11.9" fill="#2aa7e1"/>
<rect x="81.66" y="308.80" width="3.1" height="11.9" fill="#e6e6e6"/>
<rect x="85.52" y="308.80" width="3.1" height="11.9" fill="#2aa7e1"/>
<rect x="89.38" y="308.80" width="3.1" height="11.9" fill="#2aa7e1"/>
<rect x="93.23" y="308.80" width="3.1" height="11.9" fill="#e6e6e6"/>
<rect x="97.08" y="308.80" width="3.1" height="11.9" fill="#2aa7e1"/>
<rect x="100.94" y="308.80" width="3.1" height="11.9" fill="#2aa7e1"/>
<rect x="104.79" y="308.80" width="3.1" height="11.9" fill="#e6e6e6"/>
<rect x="108.65" y="308.80" width="3.1" height="11.9" fill="#e6e6e6"/>
<rect x="112.50" y="308.80" width="3.1" height="11.9" fill="#e6e6e6"/>
<rect x="116.36" y="308.80" width="3.1" height="11.9" fill="#2aa7e1"/>
<rect x="120.22" y="308.80" width="3.1" height="11.9" fill="#2aa7e1"/>
<rect x="124.07" y="308.80" width="3.1" height="11.9" fill="#e6e6e6"/>
<rect x="127.92" y="308.80" width="3.1" height="11.9" fill="#e6e6e6"/>
<rect x="131.78" y="308.80" width="3.1" height="11.9" fill="#e6e6e6"/>
<rect x="135.63" y="308.80" width="3.1" height="11.9" fill="#2aa7e1"/>
<rect x="139.49" y="308.80" width="3.1" height="11.9" fill="#e6e6e6"/>
<rect x="143.34" y="308.80" width="3.1" height="11.9" fill="#2aa7e1"/>
<rect x="147.20" y="308.80" width="3.1" height="11.9" fill="#2aa7e1"/>
<rect x="151.06" y="308.80" width="3.1" height="11.9" fill="#2aa7e1"/>
<rect x="154.91" y="308.80" width="3.1" height="11.9" fill="#2aa7e1"/>
<rect x="158.76" y="308.80" width="3.1" height="11.9" fill="#2aa7e1"/>
<rect x="162.62" y="308.80" width="3.1" height="11.9" fill="#e6e6e6"/>
<rect x="166.47" y="308.80" width="3.1" height="11.9" fill="#e6e6e6"/>
<rect x="170.33" y="308.80" width="3.1" height="11.9" fill="#e6e6e6"/>
<rect x="174.19" y="308.80" width="3.1" height="11.9" fill="#2aa7e1"/>
<rect x="178.04" y="308.80" width="3.1" height="11.9" fill="#2aa7e1"/>
<rect x="181.89" y="308.80" width="3.1" height="11.9" fill="#e6e6e6"/>
<rect x="185.75" y="308.80" width="3.1" height="11.9" fill="#2aa7e1"/>
<rect x="189.60" y="308.80" width="3.1" height="11.9" fill="#2aa7e1"/>
<rect x="193.46" y="308.80" width="3.1" height="11.9" fill="#2aa7e1"/>
<rect x="197.31" y="308.80" width="3.1" height="11.9" fill="#e6e6e6"/>
<rect x="201.17" y="308.80" width="3.1" height="11.9" fill="#e6e6e6"/>
<rect x="205.03" y="308.80" width="3.1" height="11.9" fill="#e6e6e6"/>
<rect x="208.88" y="308.80" width="3.1" height="11.9" fill="#2aa7e1"/>
<rect x="212.73" y="308.80" width="3.1" height="11.9" fill="#e6e6e6"/>
<rect x="216.59" y="308.80" width="3.1" height="11.9" fill="#e6e6e6"/>
<rect x="220.44" y="308.80" width="3.1" height="11.9" fill="#e6e6e6"/>
<rect x="224.30" y="308.80" width="3.1" height="11.9" fill="#e6e6e6"/>
<rect x="228.16" y="308.80" width="3.1" height="11.9" fill="#2aa7e1"/>
<rect x="232.01" y="308.80" width="3.1" height="11.9" fill="#e6e6e6"/>
<rect x="235.86" y="308.80" width="3.1" height="11.9" fill="#2aa7e1"/>
<rect x="239.72" y="308.80" width="3.1" height="11.9" fill="#e6e6e6"/>
<rect x="243.57" y="308.80" width="3.1" height="11.9" fill="#2aa7e1"/>
<rect x="247.43" y="308.80" width="3.1" height="11.9" fill="#2aa7e1"/>
<rect x="251.28" y="308.80" width="3.1" height="11.9" fill="#e6e6e6"/>
<rect x="255.14" y="308.80" width="3.1" height="11.9" fill="#2aa7e1"/>
<rect x="259.00" y="308.80" width="3.1" height="11.9" fill="#e6e6e6"/>
<rect x="262.85" y="308.80" width="3.1" height="11.9" fill="#e6e6e6"/>
<rect x="266.70" y="308.80" width="3.1" height="11.9" fill="#2aa7e1"/>
<rect x="270.56" y="308.80" width="3.1" height="11.9" fill="#e6e6e6"/>
<rect x="274.41" y="308.80" width="3.1" height="11.9" fill="#e6e6e6"/>
<rect x="278.27" y="308.80" width="3.1" height="11.9" fill="#e6e6e6"/>
<rect x="282.12" y="308.80" width="3.1" height="11.9" fill="#e6e6e6"/>
<rect x="285.98" y="308.80" width="3.1" height="11.9" fill="#e6e6e6"/>
<rect x="289.83" y="308.80" width="3.1" height="11.9" fill="#2aa7e1"/>
<rect x="293.69" y="308.80" width="3.1" height="11.9" fill="#2aa7e1"/>
<rect x="297.54" y="308.80" width="3.1" height="11.9" fill="#e6e6e6"/>
<rect x="301.40" y="308.80" width="3.1" height="11.9" fill="#e6e6e6"/>
<rect x="305.25" y="308.80" width="3.1" height="11.9" fill="#e6e6e6"/>
<rect x="309.11" y="308.80" width="3.1" height="11.9" fill="#2aa7e1"/>
<rect x="312.97" y="308.80" width="3.1" height="11.9" fill="#2aa7e1"/>
<rect x="316.82" y="308.80" width="3.1" height="11.9" fill="#2aa7e1"/>
<rect x="320.67" y="308.80" width="3.1" height="11.9" fill="#e6e6e6"/>
<rect x="324.53" y="308.80" width="3.1" height="11.9" fill="#e6e6e6"/>
<rect x="328.38" y="308.80" width="3.1" height="11.9" fill="#e6e6e6"/>
<rect x="332.24" y="308.80" width="3.1" height="11.9" fill="#e6e6e6"/>
<rect x="336.10" y="308.80" width="3.1" height="11.9" fill="#2aa7e1"/>
<rect x="339.95" y="308.80" width="3.1" height="11.9" fill="#2aa7e1"/>
<rect x="343.80" y="308.80" width="3.1" height="11.9" fill="#e6e6e6"/>
<rect x="347.66" y="308.80" width="3.1" height="11.9" fill="#2aa7e1"/>
<rect x="351.51" y="308.80" width="3.1" height="11.9" fill="#e6e6e6"/>
<rect x="355.37" y="308.80" width="3.1" height="11.9" fill="#2aa7e1"/>
<rect x="359.23" y="308.80" width="3.1" height="11.9" fill="#e6e6e6"/>
<rect x="363.08" y="308.80" width="3.1" height="11.9" fill="#e6e6e6"/>
<rect x="366.93" y="308.80" width="3.1" height="11.9" fill="#2aa7e1"/>
<rect x="370.79" y="308.80" width="3.1" height="11.9" fill="#e6e6e6"/>
<rect x="374.64" y="308.80" width="3.1" height="11.9" fill="#e6e6e6"/>
<rect x="378.50" y="308.80" width="3.1" height="11.9" fill="#e6e6e6"/>
<rect x="382.36" y="308.80" width="3.1" height="11.9" fill="#e6e6e6"/>
<rect x="386.21" y="308.80" width="3.1" height="11.9" fill="#2aa7e1"/>
<rect x="390.06" y="308.80" width="3.1" height="11.9" fill="#2aa7e1"/>
<rect x="393.92" y="308.80" width="3.1" height="11.9" fill="#2aa7e1"/>
<rect x="397.77" y="308.80" width="3.1" height="11.9" fill="#e6e6e6"/>
<rect x="401.63" y="308.80" width="3.1" height="11.9" fill="#2aa7e1"/>
<rect x="405.49" y="308.80" width="3.1" height="11.9" fill="#e6e6e6"/>
<rect x="409.34" y="308.80" width="3.1" height="11.9" fill="#2aa7e1"/>
<rect x="413.19" y="308.80" width="3.1" height="11.9" fill="#2aa7e1"/>
<rect x="417.05" y="308.80" width="3.1" height="11.9" fill="#2aa7e1"/>
<rect x="420.90" y="308.80" width="3.1" height="11.9" fill="#2aa7e1"/>
<rect x="424.76" y="308.80" width="3.1" height="11.9" fill="#2aa7e1"/>
<rect x="428.62" y="308.80" width="3.1" height="11.9" fill="#2aa7e1"/>
<rect x="432.47" y="308.80" width="3.1" height="11.9" fill="#e6e6e6"/>
<rect x="436.33" y="308.80" width="3.1" height="11.9" fill="#2aa7e1"/>
<rect x="440.18" y="308.80" width="3.1" height="11.9" fill="#2aa7e1"/>
<rect x="444.03" y="308.80" width="3.1" height="11.9" fill="#2aa7e1"/>
<rect x="447.89" y="308.80" width="3.1" height="11.9" fill="#e6e6e6"/>
<rect x="451.75" y="308.80" width="3.1" height="11.9" fill="#e6e6e6"/>
<rect x="455.60" y="308.80" width="3.1" height="11.9" fill="#e6e6e6"/>
<rect x="459.46" y="308.80" width="3.1" height="11.9" fill="#2aa7e1"/>
<rect x="463.31" y="308.80" width="3.1" height="11.9" fill="#e6e6e6"/>
<rect x="467.16" y="308.80" width="3.1" height="11.9" fill="#2aa7e1"/>
<rect x="471.02" y="308.80" width="3.1" height="11.9" fill="#2aa7e1"/>
<rect x="70.10" y="327.0" width="3.1" height="12" fill="#cad9e7"/>
<rect x="73.95" y="327.0" width="3.1" height="12" fill="#cad9e7"/>
<rect x="77.81" y="327.0" width="3.1" height="12" fill="#cad9e7"/>
<rect x="81.66" y="327.0" width="3.1" height="12" fill="#cad9e7"/>
<rect x="85.52" y="327.0" width="3.1" height="12" fill="#cad9e7"/>
<rect x="89.38" y="327.0" width="3.1" height="12" fill="#cad9e7"/>
<rect x="93.23" y="327.0" width="3.1" height="12" fill="#cad9e7"/>
<rect x="97.08" y="327.0" width="3.1" height="12" fill="#cad9e7"/>
<rect x="100.94" y="327.0" width="3.1" height="12" fill="#cad9e7"/>
<rect x="104.79" y="327.0" width="3.1" height="12" fill="#cad9e7"/>
<rect x="108.65" y="327.0" width="3.1" height="12" fill="#cad9e7"/>
<rect x="112.50" y="327.0" width="3.1" height="12" fill="#cad9e7"/>
<rect x="116.36" y="327.0" width="3.1" height="12" fill="#cad9e7"/>
<rect x="120.22" y="327.0" width="3.1" height="12" fill="#cad9e7"/>
<rect x="124.07" y="327.0" width="3.1" height="12" fill="#cad9e7"/>
<rect x="127.92" y="327.0" width="3.1" height="12" fill="#cad9e7"/>
<rect x="131.78" y="327.0" width="3.1" height="12" fill="#cad9e7"/>
<rect x="135.63" y="327.0" width="3.1" height="12" fill="#cad9e7"/>
<rect x="139.49" y="327.0" width="3.1" height="12" fill="#cad9e7"/>
<rect x="143.34" y="327.0" width="3.1" height="12" fill="#cad9e7"/>
<rect x="147.20" y="327.0" width="3.1" height="12" fill="#cad9e7"/>
<rect x="151.06" y="327.0" width="3.1" height="12" fill="#2e63a0"/>
<rect x="154.91" y="327.0" width="3.1" height="12" fill="#cad9e7"/>
<rect x="158.76" y="327.0" width="3.1" height="12" fill="#cad9e7"/>
<rect x="162.62" y="327.0" width="3.1" height="12" fill="#cad9e7"/>
<rect x="166.47" y="327.0" width="3.1" height="12" fill="#cad9e7"/>
<rect x="170.33" y="327.0" width="3.1" height="12" fill="#cad9e7"/>
<rect x="174.19" y="327.0" width="3.1" height="12" fill="#cad9e7"/>
<rect x="178.04" y="327.0" width="3.1" height="12" fill="#cad9e7"/>
<rect x="181.89" y="327.0" width="3.1" height="12" fill="#cad9e7"/>
<rect x="185.75" y="327.0" width="3.1" height="12" fill="#cad9e7"/>
<rect x="189.60" y="327.0" width="3.1" height="12" fill="#cad9e7"/>
<rect x="193.46" y="327.0" width="3.1" height="12" fill="#cad9e7"/>
<rect x="197.31" y="327.0" width="3.1" height="12" fill="#cad9e7"/>
<rect x="201.17" y="327.0" width="3.1" height="12" fill="#cad9e7"/>
<rect x="205.03" y="327.0" width="3.1" height="12" fill="#cad9e7"/>
<rect x="208.88" y="327.0" width="3.1" height="12" fill="#cad9e7"/>
<rect x="212.73" y="327.0" width="3.1" height="12" fill="#cad9e7"/>
<rect x="216.59" y="327.0" width="3.1" height="12" fill="#cad9e7"/>
<rect x="220.44" y="327.0" width="3.1" height="12" fill="#cad9e7"/>
<rect x="224.30" y="327.0" width="3.1" height="12" fill="#33659f"/>
<rect x="228.16" y="327.0" width="3.1" height="12" fill="#8eadcb"/>
<rect x="232.01" y="327.0" width="3.1" height="12" fill="#8eadcb"/>
<rect x="235.86" y="327.0" width="3.1" height="12" fill="#4d7db0"/>
<rect x="239.72" y="327.0" width="3.1" height="12" fill="#18467f"/>
<rect x="243.57" y="327.0" width="3.1" height="12" fill="#8eadcb"/>
<rect x="247.43" y="327.0" width="3.1" height="12" fill="#33659f"/>
<rect x="251.28" y="327.0" width="3.1" height="12" fill="#8eadcb"/>
<rect x="255.14" y="327.0" width="3.1" height="12" fill="#4d7db0"/>
<rect x="259.00" y="327.0" width="3.1" height="12" fill="#18467f"/>
<rect x="262.85" y="327.0" width="3.1" height="12" fill="#4d7db0"/>
<rect x="266.70" y="327.0" width="3.1" height="12" fill="#4d7db0"/>
<rect x="270.56" y="327.0" width="3.1" height="12" fill="#4d7db0"/>
<rect x="274.41" y="327.0" width="3.1" height="12" fill="#33659f"/>
<rect x="278.27" y="327.0" width="3.1" height="12" fill="#8eadcb"/>
<rect x="282.12" y="327.0" width="3.1" height="12" fill="#4d7db0"/>
<rect x="285.98" y="327.0" width="3.1" height="12" fill="#18467f"/>
<rect x="289.83" y="327.0" width="3.1" height="12" fill="#18467f"/>
<rect x="293.69" y="327.0" width="3.1" height="12" fill="#cad9e7"/>
<rect x="297.54" y="327.0" width="3.1" height="12" fill="#8eadcb"/>
<rect x="301.40" y="327.0" width="3.1" height="12" fill="#cad9e7"/>
<rect x="305.25" y="327.0" width="3.1" height="12" fill="#33659f"/>
<rect x="309.11" y="327.0" width="3.1" height="12" fill="#8eadcb"/>
<rect x="312.97" y="327.0" width="3.1" height="12" fill="#8eadcb"/>
<rect x="316.82" y="327.0" width="3.1" height="12" fill="#4d7db0"/>
<rect x="320.67" y="327.0" width="3.1" height="12" fill="#4d7db0"/>
<rect x="324.53" y="327.0" width="3.1" height="12" fill="#8eadcb"/>
<rect x="328.38" y="327.0" width="3.1" height="12" fill="#4d7db0"/>
<rect x="332.24" y="327.0" width="3.1" height="12" fill="#18467f"/>
<rect x="336.10" y="327.0" width="3.1" height="12" fill="#8eadcb"/>
<rect x="339.95" y="327.0" width="3.1" height="12" fill="#18467f"/>
<rect x="343.80" y="327.0" width="3.1" height="12" fill="#8eadcb"/>
<rect x="347.66" y="327.0" width="3.1" height="12" fill="#cad9e7"/>
<rect x="351.51" y="327.0" width="3.1" height="12" fill="#33659f"/>
<rect x="355.37" y="327.0" width="3.1" height="12" fill="#8eadcb"/>
<rect x="359.23" y="327.0" width="3.1" height="12" fill="#8eadcb"/>
<rect x="363.08" y="327.0" width="3.1" height="12" fill="#8eadcb"/>
<rect x="366.93" y="327.0" width="3.1" height="12" fill="#8eadcb"/>
<rect x="370.79" y="327.0" width="3.1" height="12" fill="#18467f"/>
<rect x="374.64" y="327.0" width="3.1" height="12" fill="#33659f"/>
<rect x="378.50" y="327.0" width="3.1" height="12" fill="#8eadcb"/>
<rect x="382.36" y="327.0" width="3.1" height="12" fill="#8eadcb"/>
<rect x="386.21" y="327.0" width="3.1" height="12" fill="#cad9e7"/>
<rect x="390.06" y="327.0" width="3.1" height="12" fill="#8eadcb"/>
<rect x="393.92" y="327.0" width="3.1" height="12" fill="#33659f"/>
<rect x="397.77" y="327.0" width="3.1" height="12" fill="#33659f"/>
<rect x="401.63" y="327.0" width="3.1" height="12" fill="#33659f"/>
<rect x="405.49" y="327.0" width="3.1" height="12" fill="#18467f"/>
<rect x="409.34" y="327.0" width="3.1" height="12" fill="#cad9e7"/>
<rect x="413.19" y="327.0" width="3.1" height="12" fill="#33659f"/>
<rect x="417.05" y="327.0" width="3.1" height="12" fill="#cad9e7"/>
<rect x="420.90" y="327.0" width="3.1" height="12" fill="#cad9e7"/>
<rect x="424.76" y="327.0" width="3.1" height="12" fill="#8eadcb"/>
<rect x="428.62" y="327.0" width="3.1" height="12" fill="#8eadcb"/>
<rect x="432.47" y="327.0" width="3.1" height="12" fill="#cad9e7"/>
<rect x="436.33" y="327.0" width="3.1" height="12" fill="#cad9e7"/>
<rect x="440.18" y="327.0" width="3.1" height="12" fill="#33659f"/>
<rect x="444.03" y="327.0" width="3.1" height="12" fill="#33659f"/>
<rect x="447.89" y="327.0" width="3.1" height="12" fill="#8eadcb"/>
<rect x="451.75" y="327.0" width="3.1" height="12" fill="#8eadcb"/>
<rect x="455.60" y="327.0" width="3.1" height="12" fill="#33659f"/>
<rect x="459.46" y="327.0" width="3.1" height="12" fill="#cad9e7"/>
<rect x="463.31" y="327.0" width="3.1" height="12" fill="#cad9e7"/>
<rect x="467.16" y="327.0" width="3.1" height="12" fill="#cad9e7"/>
<rect x="471.02" y="327.0" width="3.1" height="12" fill="#8eadcb"/>
<text x="63.8" y="335.8" font-size="7.4" text-anchor="end" font-weight="normal" fill="#1a1a1a" stroke="#1a1a1a" stroke-width="0.17" >Overall response</text>
<text x="146" y="350.2" font-size="7.45" text-anchor="start" font-weight="normal" fill="#1a1a1a" stroke="#1a1a1a" stroke-width="0.17" >Overall response (OR)</text>
<rect x="225.6" y="343" width="31.7" height="8.8" fill="#cddae6"/>
<text x="241.4" y="349.7" font-size="7.6" text-anchor="middle" font-weight="normal" fill="#1a1a1a" stroke="#1a1a1a" stroke-width="0.1" >PR</text>
<rect x="257.3" y="343" width="31.0" height="8.8" fill="#8caac7"/>
<text x="272.8" y="349.7" font-size="7.6" text-anchor="middle" font-weight="normal" fill="#111" stroke="#111" stroke-width="0.1" >SD/MR</text>
<rect x="288.3" y="343" width="32.4" height="8.8" fill="#4e7eb1"/>
<text x="304.5" y="349.7" font-size="7.5" text-anchor="middle" fill="#fff" textLength="30" lengthAdjust="spacingAndGlyphs">SD/mixed</text>
<rect x="320.7" y="343" width="31.3" height="8.8" fill="#1d4c86"/>
<text x="336.4" y="349.7" font-size="7.6" text-anchor="middle" font-weight="normal" fill="#fff" stroke="#fff" stroke-width="0.05" >PD</text>
<text x="44" y="369.9" font-size="9.1" text-anchor="start" font-weight="normal" fill="#1a1a1a" stroke="#1a1a1a" stroke-width="0.17" textLength="455.4" lengthAdjust="spacing">Note: New onset of 5 lung and 2 JMF cases during the therapy were included in the frequency tables. These new</text>
<text x="44" y="381.2" font-size="9.1" text-anchor="start" font-weight="normal" fill="#1a1a1a" stroke="#1a1a1a" stroke-width="0.17" >onsets were also included in the organ-specific response rate as non-responders.</text>
<rect x="0.5" y="0.5" width="519" height="387" fill="none" stroke="#000" stroke-width="1"/>
</svg>
</body></html>
